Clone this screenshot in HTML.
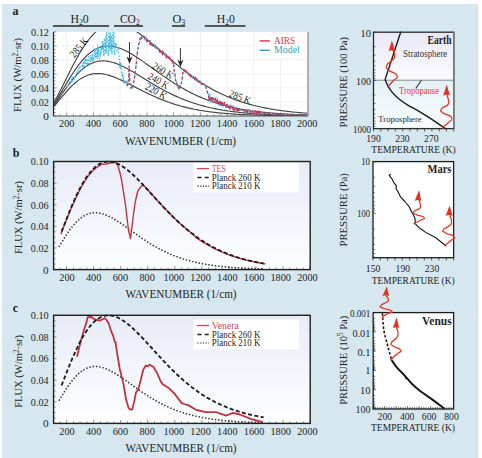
<!DOCTYPE html>
<html><head><meta charset="utf-8"><style>
html,body{margin:0;padding:0;background:#fff;}
svg{display:block;}
</style></head><body>
<svg width="482" height="458" viewBox="0 0 482 458">
<rect x="2" y="4" width="476" height="454" fill="#d6e7ef"/>
<rect x="476.8" y="4" width="1.2" height="454" fill="#d2e0e8"/>
<text x="12.60" y="15.00" font-family="Liberation Serif, serif" font-size="12" font-weight="bold" fill="#1e1e1e" text-anchor="start" >a</text>
<rect x="53" y="25.2" width="56" height="1.6" fill="#333"/>
<text x="70.50" y="22.90" font-family="Liberation Serif, serif" font-size="11.5" fill="#1e1e1e" text-anchor="start" textLength="18.2" lengthAdjust="spacingAndGlyphs" >H<tspan font-size="7.5" dy="2.2">2</tspan><tspan dy="-2.2">0</tspan></text>
<rect x="114" y="25.2" width="29" height="1.6" fill="#333"/>
<text x="120.00" y="22.90" font-family="Liberation Serif, serif" font-size="11.5" fill="#1e1e1e" text-anchor="start" textLength="19.6" lengthAdjust="spacingAndGlyphs" >CO<tspan font-size="7.5" dy="2.2">2</tspan></text>
<rect x="172" y="25.2" width="13.199999999999989" height="1.6" fill="#333"/>
<text x="172.50" y="22.90" font-family="Liberation Serif, serif" font-size="11.5" fill="#1e1e1e" text-anchor="start" textLength="12.8" lengthAdjust="spacingAndGlyphs" >O<tspan font-size="7.5" dy="2.2">3</tspan></text>
<rect x="204.8" y="25.2" width="40.69999999999999" height="1.6" fill="#333"/>
<text x="216.80" y="22.90" font-family="Liberation Serif, serif" font-size="11.5" fill="#1e1e1e" text-anchor="start" textLength="18.2" lengthAdjust="spacingAndGlyphs" >H<tspan font-size="7.5" dy="2.2">2</tspan><tspan dy="-2.2">0</tspan></text>
<rect x="53.5" y="31.9" width="254.5" height="84.1" fill="#fff"/>
<line x1="66.76" y1="31.9" x2="66.76" y2="116.0" stroke="#e2e2e2" stroke-width="0.8" stroke-dasharray="1.5 1"/>
<line x1="93.48" y1="31.9" x2="93.48" y2="116.0" stroke="#e2e2e2" stroke-width="0.8" stroke-dasharray="1.5 1"/>
<line x1="120.20" y1="31.9" x2="120.20" y2="116.0" stroke="#e2e2e2" stroke-width="0.8" stroke-dasharray="1.5 1"/>
<line x1="146.92" y1="31.9" x2="146.92" y2="116.0" stroke="#e2e2e2" stroke-width="0.8" stroke-dasharray="1.5 1"/>
<line x1="173.64" y1="31.9" x2="173.64" y2="116.0" stroke="#e2e2e2" stroke-width="0.8" stroke-dasharray="1.5 1"/>
<line x1="200.36" y1="31.9" x2="200.36" y2="116.0" stroke="#e2e2e2" stroke-width="0.8" stroke-dasharray="1.5 1"/>
<line x1="227.08" y1="31.9" x2="227.08" y2="116.0" stroke="#e2e2e2" stroke-width="0.8" stroke-dasharray="1.5 1"/>
<line x1="253.80" y1="31.9" x2="253.80" y2="116.0" stroke="#e2e2e2" stroke-width="0.8" stroke-dasharray="1.5 1"/>
<line x1="280.52" y1="31.9" x2="280.52" y2="116.0" stroke="#e2e2e2" stroke-width="0.8" stroke-dasharray="1.5 1"/>
<line x1="307.24" y1="31.9" x2="307.24" y2="116.0" stroke="#e2e2e2" stroke-width="0.8" stroke-dasharray="1.5 1"/>
<line x1="53.5" y1="101.98" x2="308.0" y2="101.98" stroke="#e2e2e2" stroke-width="0.8" stroke-dasharray="1.5 1"/>
<line x1="53.5" y1="87.96" x2="308.0" y2="87.96" stroke="#e2e2e2" stroke-width="0.8" stroke-dasharray="1.5 1"/>
<line x1="53.5" y1="73.94" x2="308.0" y2="73.94" stroke="#e2e2e2" stroke-width="0.8" stroke-dasharray="1.5 1"/>
<line x1="53.5" y1="59.92" x2="308.0" y2="59.92" stroke="#e2e2e2" stroke-width="0.8" stroke-dasharray="1.5 1"/>
<line x1="53.5" y1="45.90" x2="308.0" y2="45.90" stroke="#e2e2e2" stroke-width="0.8" stroke-dasharray="1.5 1"/>
<line x1="60.08" y1="116.0" x2="60.08" y2="114.0" stroke="#777" stroke-width="0.7"/>
<line x1="66.76" y1="116.0" x2="66.76" y2="112.5" stroke="#777" stroke-width="0.7"/>
<line x1="73.44" y1="116.0" x2="73.44" y2="114.0" stroke="#777" stroke-width="0.7"/>
<line x1="80.12" y1="116.0" x2="80.12" y2="114.0" stroke="#777" stroke-width="0.7"/>
<line x1="86.80" y1="116.0" x2="86.80" y2="114.0" stroke="#777" stroke-width="0.7"/>
<line x1="93.48" y1="116.0" x2="93.48" y2="112.5" stroke="#777" stroke-width="0.7"/>
<line x1="100.16" y1="116.0" x2="100.16" y2="114.0" stroke="#777" stroke-width="0.7"/>
<line x1="106.84" y1="116.0" x2="106.84" y2="114.0" stroke="#777" stroke-width="0.7"/>
<line x1="113.52" y1="116.0" x2="113.52" y2="114.0" stroke="#777" stroke-width="0.7"/>
<line x1="120.20" y1="116.0" x2="120.20" y2="112.5" stroke="#777" stroke-width="0.7"/>
<line x1="126.88" y1="116.0" x2="126.88" y2="114.0" stroke="#777" stroke-width="0.7"/>
<line x1="133.56" y1="116.0" x2="133.56" y2="114.0" stroke="#777" stroke-width="0.7"/>
<line x1="140.24" y1="116.0" x2="140.24" y2="114.0" stroke="#777" stroke-width="0.7"/>
<line x1="146.92" y1="116.0" x2="146.92" y2="112.5" stroke="#777" stroke-width="0.7"/>
<line x1="153.60" y1="116.0" x2="153.60" y2="114.0" stroke="#777" stroke-width="0.7"/>
<line x1="160.28" y1="116.0" x2="160.28" y2="114.0" stroke="#777" stroke-width="0.7"/>
<line x1="166.96" y1="116.0" x2="166.96" y2="114.0" stroke="#777" stroke-width="0.7"/>
<line x1="173.64" y1="116.0" x2="173.64" y2="112.5" stroke="#777" stroke-width="0.7"/>
<line x1="180.32" y1="116.0" x2="180.32" y2="114.0" stroke="#777" stroke-width="0.7"/>
<line x1="187.00" y1="116.0" x2="187.00" y2="114.0" stroke="#777" stroke-width="0.7"/>
<line x1="193.68" y1="116.0" x2="193.68" y2="114.0" stroke="#777" stroke-width="0.7"/>
<line x1="200.36" y1="116.0" x2="200.36" y2="112.5" stroke="#777" stroke-width="0.7"/>
<line x1="207.04" y1="116.0" x2="207.04" y2="114.0" stroke="#777" stroke-width="0.7"/>
<line x1="213.72" y1="116.0" x2="213.72" y2="114.0" stroke="#777" stroke-width="0.7"/>
<line x1="220.40" y1="116.0" x2="220.40" y2="114.0" stroke="#777" stroke-width="0.7"/>
<line x1="227.08" y1="116.0" x2="227.08" y2="112.5" stroke="#777" stroke-width="0.7"/>
<line x1="233.76" y1="116.0" x2="233.76" y2="114.0" stroke="#777" stroke-width="0.7"/>
<line x1="240.44" y1="116.0" x2="240.44" y2="114.0" stroke="#777" stroke-width="0.7"/>
<line x1="247.12" y1="116.0" x2="247.12" y2="114.0" stroke="#777" stroke-width="0.7"/>
<line x1="253.80" y1="116.0" x2="253.80" y2="112.5" stroke="#777" stroke-width="0.7"/>
<line x1="260.48" y1="116.0" x2="260.48" y2="114.0" stroke="#777" stroke-width="0.7"/>
<line x1="267.16" y1="116.0" x2="267.16" y2="114.0" stroke="#777" stroke-width="0.7"/>
<line x1="273.84" y1="116.0" x2="273.84" y2="114.0" stroke="#777" stroke-width="0.7"/>
<line x1="280.52" y1="116.0" x2="280.52" y2="112.5" stroke="#777" stroke-width="0.7"/>
<line x1="287.20" y1="116.0" x2="287.20" y2="114.0" stroke="#777" stroke-width="0.7"/>
<line x1="293.88" y1="116.0" x2="293.88" y2="114.0" stroke="#777" stroke-width="0.7"/>
<line x1="300.56" y1="116.0" x2="300.56" y2="114.0" stroke="#777" stroke-width="0.7"/>
<line x1="307.24" y1="116.0" x2="307.24" y2="112.5" stroke="#777" stroke-width="0.7"/>
<line x1="53.5" y1="116.00" x2="56.5" y2="116.00" stroke="#666" stroke-width="0.7"/>
<line x1="53.5" y1="112.50" x2="55.5" y2="112.50" stroke="#666" stroke-width="0.7"/>
<line x1="53.5" y1="108.99" x2="55.5" y2="108.99" stroke="#666" stroke-width="0.7"/>
<line x1="53.5" y1="105.48" x2="55.5" y2="105.48" stroke="#666" stroke-width="0.7"/>
<line x1="53.5" y1="101.98" x2="56.5" y2="101.98" stroke="#666" stroke-width="0.7"/>
<line x1="53.5" y1="98.47" x2="55.5" y2="98.47" stroke="#666" stroke-width="0.7"/>
<line x1="53.5" y1="94.97" x2="55.5" y2="94.97" stroke="#666" stroke-width="0.7"/>
<line x1="53.5" y1="91.47" x2="55.5" y2="91.47" stroke="#666" stroke-width="0.7"/>
<line x1="53.5" y1="87.96" x2="56.5" y2="87.96" stroke="#666" stroke-width="0.7"/>
<line x1="53.5" y1="84.45" x2="55.5" y2="84.45" stroke="#666" stroke-width="0.7"/>
<line x1="53.5" y1="80.95" x2="55.5" y2="80.95" stroke="#666" stroke-width="0.7"/>
<line x1="53.5" y1="77.44" x2="55.5" y2="77.44" stroke="#666" stroke-width="0.7"/>
<line x1="53.5" y1="73.94" x2="56.5" y2="73.94" stroke="#666" stroke-width="0.7"/>
<line x1="53.5" y1="70.44" x2="55.5" y2="70.44" stroke="#666" stroke-width="0.7"/>
<line x1="53.5" y1="66.93" x2="55.5" y2="66.93" stroke="#666" stroke-width="0.7"/>
<line x1="53.5" y1="63.43" x2="55.5" y2="63.43" stroke="#666" stroke-width="0.7"/>
<line x1="53.5" y1="59.92" x2="56.5" y2="59.92" stroke="#666" stroke-width="0.7"/>
<line x1="53.5" y1="56.41" x2="55.5" y2="56.41" stroke="#666" stroke-width="0.7"/>
<line x1="53.5" y1="52.91" x2="55.5" y2="52.91" stroke="#666" stroke-width="0.7"/>
<line x1="53.5" y1="49.41" x2="55.5" y2="49.41" stroke="#666" stroke-width="0.7"/>
<line x1="53.5" y1="45.90" x2="56.5" y2="45.90" stroke="#666" stroke-width="0.7"/>
<line x1="53.5" y1="42.39" x2="55.5" y2="42.39" stroke="#666" stroke-width="0.7"/>
<line x1="53.5" y1="38.89" x2="55.5" y2="38.89" stroke="#666" stroke-width="0.7"/>
<line x1="53.5" y1="35.38" x2="55.5" y2="35.38" stroke="#666" stroke-width="0.7"/>
<line x1="53.5" y1="31.88" x2="56.5" y2="31.88" stroke="#666" stroke-width="0.7"/>
<clipPath id="ca"><rect x="53.5" y="31.9" width="254.5" height="84.1"/></clipPath>
<polyline clip-path="url(#ca)" points="53.40,106.96 54.47,105.75 55.54,104.52 56.61,103.27 57.68,101.99 58.74,100.71 59.81,99.42 60.88,98.13 61.95,96.85 63.02,95.57 64.09,94.31 65.16,93.07 66.23,91.85 67.29,90.66 68.36,89.49 69.43,88.35 70.50,87.25 71.57,86.18 72.64,85.15 73.71,84.16 74.78,83.21 75.84,82.31 76.91,81.45 77.98,80.63 79.05,79.85 80.12,79.12 81.19,78.44 82.26,77.81 83.33,77.22 84.40,76.67 85.46,76.18 86.53,75.72 87.60,75.32 88.67,74.96 89.74,74.64 90.81,74.36 91.88,74.13 92.95,73.94 94.01,73.79 95.08,73.68 96.15,73.61 97.22,73.57 98.29,73.58 99.36,73.61 100.43,73.69 101.50,73.79 102.56,73.93 103.63,74.09 104.70,74.29 105.77,74.51 106.84,74.77 107.91,75.04 108.98,75.34 110.05,75.66 111.12,76.01 112.18,76.37 113.25,76.76 114.32,77.16 115.39,77.58 116.46,78.01 117.53,78.46 118.60,78.92 119.67,79.40 120.73,79.88 121.80,80.38 122.87,80.89 123.94,81.40 125.01,81.92 126.08,82.45 127.15,82.99 128.22,83.52 129.28,84.07 130.35,84.61 131.42,85.16 132.49,85.71 133.56,86.27 134.63,86.82 135.70,87.37 136.77,87.92 137.84,88.47 138.90,89.02 139.97,89.57 141.04,90.11 142.11,90.65 143.18,91.19 144.25,91.72 145.32,92.25 146.39,92.78 147.45,93.29 148.52,93.81 149.59,94.32 150.66,94.82 151.73,95.31 152.80,95.80 153.87,96.29 154.94,96.76 156.00,97.23 157.07,97.70 158.14,98.15 159.21,98.60 160.28,99.04 161.35,99.48 162.42,99.90 163.49,100.32 164.56,100.73 165.62,101.14 166.69,101.53 167.76,101.92 168.83,102.30 169.90,102.67 170.97,103.04 172.04,103.40 173.11,103.75 174.17,104.09 175.24,104.43 176.31,104.76 177.38,105.08 178.45,105.39 179.52,105.70 180.59,106.00 181.66,106.29 182.72,106.57 183.79,106.85 184.86,107.12 185.93,107.39 187.00,107.65 188.07,107.90 189.14,108.14 190.21,108.38 191.28,108.62 192.34,108.84 193.41,109.06 194.48,109.28 195.55,109.49 196.62,109.69 197.69,109.89 198.76,110.08 199.83,110.27 200.89,110.45 201.96,110.63 203.03,110.80 204.10,110.97 205.17,111.13 206.24,111.29 207.31,111.44 208.38,111.59 209.44,111.74 210.51,111.88 211.58,112.01 212.65,112.15 213.72,112.27 214.79,112.40 215.86,112.52 216.93,112.64 218.00,112.75 219.06,112.86 220.13,112.97 221.20,113.07 222.27,113.17 223.34,113.26 224.41,113.36 225.48,113.45 226.55,113.54 227.61,113.62 228.68,113.71 229.75,113.78 230.82,113.86 231.89,113.94 232.96,114.01 234.03,114.08 235.10,114.15 236.16,114.21 237.23,114.28 238.30,114.34 239.37,114.40 240.44,114.45 241.51,114.51 242.58,114.56 243.65,114.61 244.72,114.66 245.78,114.71 246.85,114.76 247.92,114.80 248.99,114.85 250.06,114.89 251.13,114.93 252.20,114.97 253.27,115.01 254.33,115.04 255.40,115.08 256.47,115.11 257.54,115.14 258.61,115.18 259.68,115.21 260.75,115.24 261.82,115.26 262.88,115.29 263.95,115.32 265.02,115.34 266.09,115.37 267.16,115.39 268.23,115.41 269.30,115.44 270.37,115.46 271.44,115.48 272.50,115.50 273.57,115.52 274.64,115.53 275.71,115.55 276.78,115.57 277.85,115.59 278.92,115.60 279.99,115.62 281.05,115.63 282.12,115.65 283.19,115.66 284.26,115.67 285.33,115.68 286.40,115.70 287.47,115.71 288.54,115.72 289.60,115.73 290.67,115.74 291.74,115.75 292.81,115.76 293.88,115.77 294.95,115.78 296.02,115.79 297.09,115.80 298.16,115.80 299.22,115.81 300.29,115.82 301.36,115.83 302.43,115.83 303.50,115.84 304.57,115.85 305.64,115.85 306.71,115.86" fill="none" stroke="#444" stroke-width="1.15"/>
<polyline clip-path="url(#ca)" points="53.40,105.83 54.47,104.45 55.54,103.03 56.61,101.57 57.68,100.08 58.74,98.57 59.81,97.05 60.88,95.52 61.95,93.99 63.02,92.45 64.09,90.93 65.16,89.41 66.23,87.91 67.29,86.43 68.36,84.97 69.43,83.54 70.50,82.14 71.57,80.78 72.64,79.44 73.71,78.15 74.78,76.89 75.84,75.68 76.91,74.51 77.98,73.39 79.05,72.31 80.12,71.28 81.19,70.29 82.26,69.36 83.33,68.47 84.40,67.64 85.46,66.85 86.53,66.12 87.60,65.44 88.67,64.80 89.74,64.22 90.81,63.69 91.88,63.20 92.95,62.77 94.01,62.38 95.08,62.04 96.15,61.75 97.22,61.50 98.29,61.30 99.36,61.14 100.43,61.02 101.50,60.95 102.56,60.92 103.63,60.92 104.70,60.97 105.77,61.05 106.84,61.17 107.91,61.32 108.98,61.51 110.05,61.73 111.12,61.98 112.18,62.26 113.25,62.57 114.32,62.90 115.39,63.26 116.46,63.65 117.53,64.06 118.60,64.49 119.67,64.95 120.73,65.42 121.80,65.91 122.87,66.42 123.94,66.95 125.01,67.49 126.08,68.04 127.15,68.61 128.22,69.19 129.28,69.78 130.35,70.39 131.42,71.00 132.49,71.62 133.56,72.24 134.63,72.88 135.70,73.52 136.77,74.16 137.84,74.81 138.90,75.46 139.97,76.11 141.04,76.77 142.11,77.43 143.18,78.08 144.25,78.74 145.32,79.40 146.39,80.05 147.45,80.71 148.52,81.36 149.59,82.01 150.66,82.65 151.73,83.30 152.80,83.93 153.87,84.57 154.94,85.20 156.00,85.82 157.07,86.44 158.14,87.05 159.21,87.66 160.28,88.26 161.35,88.85 162.42,89.44 163.49,90.02 164.56,90.59 165.62,91.15 166.69,91.71 167.76,92.26 168.83,92.80 169.90,93.34 170.97,93.87 172.04,94.38 173.11,94.89 174.17,95.40 175.24,95.89 176.31,96.38 177.38,96.85 178.45,97.32 179.52,97.78 180.59,98.24 181.66,98.68 182.72,99.12 183.79,99.54 184.86,99.96 185.93,100.37 187.00,100.78 188.07,101.17 189.14,101.56 190.21,101.94 191.28,102.31 192.34,102.67 193.41,103.03 194.48,103.37 195.55,103.71 196.62,104.05 197.69,104.37 198.76,104.69 199.83,105.00 200.89,105.31 201.96,105.60 203.03,105.89 204.10,106.17 205.17,106.45 206.24,106.72 207.31,106.98 208.38,107.24 209.44,107.49 210.51,107.73 211.58,107.97 212.65,108.20 213.72,108.43 214.79,108.65 215.86,108.87 216.93,109.08 218.00,109.28 219.06,109.48 220.13,109.67 221.20,109.86 222.27,110.04 223.34,110.22 224.41,110.40 225.48,110.57 226.55,110.73 227.61,110.89 228.68,111.05 229.75,111.20 230.82,111.34 231.89,111.49 232.96,111.63 234.03,111.76 235.10,111.89 236.16,112.02 237.23,112.14 238.30,112.26 239.37,112.38 240.44,112.50 241.51,112.61 242.58,112.71 243.65,112.82 244.72,112.92 245.78,113.02 246.85,113.11 247.92,113.20 248.99,113.29 250.06,113.38 251.13,113.46 252.20,113.55 253.27,113.63 254.33,113.70 255.40,113.78 256.47,113.85 257.54,113.92 258.61,113.99 259.68,114.05 260.75,114.12 261.82,114.18 262.88,114.24 263.95,114.30 265.02,114.35 266.09,114.41 267.16,114.46 268.23,114.51 269.30,114.56 270.37,114.61 271.44,114.66 272.50,114.70 273.57,114.75 274.64,114.79 275.71,114.83 276.78,114.87 277.85,114.91 278.92,114.94 279.99,114.98 281.05,115.01 282.12,115.05 283.19,115.08 284.26,115.11 285.33,115.14 286.40,115.17 287.47,115.20 288.54,115.23 289.60,115.25 290.67,115.28 291.74,115.31 292.81,115.33 293.88,115.35 294.95,115.38 296.02,115.40 297.09,115.42 298.16,115.44 299.22,115.46 300.29,115.48 301.36,115.50 302.43,115.51 303.50,115.53 304.57,115.55 305.64,115.56 306.71,115.58" fill="none" stroke="#444" stroke-width="1.15"/>
<polyline clip-path="url(#ca)" points="53.40,104.70 54.47,103.14 55.54,101.52 56.61,99.86 57.68,98.15 58.74,96.42 59.81,94.66 60.88,92.88 61.95,91.09 63.02,89.29 64.09,87.49 65.16,85.69 66.23,83.90 67.29,82.12 68.36,80.36 69.43,78.62 70.50,76.91 71.57,75.22 72.64,73.57 73.71,71.95 74.78,70.36 75.84,68.82 76.91,67.32 77.98,65.86 79.05,64.45 80.12,63.08 81.19,61.77 82.26,60.50 83.33,59.29 84.40,58.12 85.46,57.01 86.53,55.96 87.60,54.95 88.67,54.01 89.74,53.11 90.81,52.27 91.88,51.49 92.95,50.76 94.01,50.09 95.08,49.46 96.15,48.90 97.22,48.38 98.29,47.92 99.36,47.51 100.43,47.15 101.50,46.84 102.56,46.57 103.63,46.36 104.70,46.19 105.77,46.07 106.84,46.00 107.91,45.97 108.98,45.98 110.05,46.03 111.12,46.12 112.18,46.26 113.25,46.43 114.32,46.63 115.39,46.88 116.46,47.15 117.53,47.46 118.60,47.80 119.67,48.18 120.73,48.58 121.80,49.01 122.87,49.46 123.94,49.94 125.01,50.45 126.08,50.98 127.15,51.53 128.22,52.10 129.28,52.69 130.35,53.30 131.42,53.92 132.49,54.56 133.56,55.22 134.63,55.89 135.70,56.57 136.77,57.27 137.84,57.98 138.90,58.69 139.97,59.42 141.04,60.15 142.11,60.89 143.18,61.64 144.25,62.39 145.32,63.15 146.39,63.91 147.45,64.68 148.52,65.45 149.59,66.22 150.66,66.99 151.73,67.76 152.80,68.53 153.87,69.30 154.94,70.07 156.00,70.84 157.07,71.61 158.14,72.37 159.21,73.13 160.28,73.89 161.35,74.64 162.42,75.39 163.49,76.13 164.56,76.87 165.62,77.60 166.69,78.32 167.76,79.04 168.83,79.76 169.90,80.46 170.97,81.16 172.04,81.86 173.11,82.54 174.17,83.22 175.24,83.89 176.31,84.55 177.38,85.20 178.45,85.85 179.52,86.48 180.59,87.11 181.66,87.73 182.72,88.34 183.79,88.94 184.86,89.54 185.93,90.12 187.00,90.70 188.07,91.26 189.14,91.82 190.21,92.37 191.28,92.91 192.34,93.44 193.41,93.96 194.48,94.47 195.55,94.97 196.62,95.47 197.69,95.95 198.76,96.43 199.83,96.90 200.89,97.36 201.96,97.81 203.03,98.25 204.10,98.68 205.17,99.11 206.24,99.52 207.31,99.93 208.38,100.33 209.44,100.72 210.51,101.11 211.58,101.48 212.65,101.85 213.72,102.21 214.79,102.56 215.86,102.91 216.93,103.25 218.00,103.58 219.06,103.90 220.13,104.21 221.20,104.52 222.27,104.83 223.34,105.12 224.41,105.41 225.48,105.69 226.55,105.96 227.61,106.23 228.68,106.50 229.75,106.75 230.82,107.00 231.89,107.25 232.96,107.49 234.03,107.72 235.10,107.95 236.16,108.17 237.23,108.38 238.30,108.59 239.37,108.80 240.44,109.00 241.51,109.20 242.58,109.39 243.65,109.57 244.72,109.75 245.78,109.93 246.85,110.10 247.92,110.27 248.99,110.43 250.06,110.59 251.13,110.75 252.20,110.90 253.27,111.04 254.33,111.19 255.40,111.33 256.47,111.46 257.54,111.59 258.61,111.72 259.68,111.85 260.75,111.97 261.82,112.09 262.88,112.20 263.95,112.31 265.02,112.42 266.09,112.53 267.16,112.63 268.23,112.73 269.30,112.83 270.37,112.92 271.44,113.02 272.50,113.11 273.57,113.19 274.64,113.28 275.71,113.36 276.78,113.44 277.85,113.52 278.92,113.59 279.99,113.66 281.05,113.74 282.12,113.81 283.19,113.87 284.26,113.94 285.33,114.00 286.40,114.06 287.47,114.12 288.54,114.18 289.60,114.24 290.67,114.29 291.74,114.34 292.81,114.40 293.88,114.45 294.95,114.49 296.02,114.54 297.09,114.59 298.16,114.63 299.22,114.67 300.29,114.72 301.36,114.76 302.43,114.79 303.50,114.83 304.57,114.87 305.64,114.91 306.71,114.94" fill="none" stroke="#444" stroke-width="1.15"/>
<polyline clip-path="url(#ca)" points="53.40,103.29 54.47,101.49 55.54,99.63 56.61,97.70 57.68,95.73 58.74,93.70 59.81,91.64 60.88,89.54 61.95,87.42 63.02,85.28 64.09,83.12 65.16,80.96 66.23,78.80 67.29,76.64 68.36,74.48 69.43,72.34 70.50,70.22 71.57,68.11 72.64,66.03 73.71,63.98 74.78,61.96 75.84,59.98 76.91,58.03 77.98,56.13 79.05,54.27 80.12,52.45 81.19,50.68 82.26,48.96 83.33,47.29 84.40,45.67 85.46,44.11 86.53,42.60 87.60,41.15 88.67,39.76 89.74,38.42 90.81,37.14 91.88,35.93 92.95,34.77 94.01,33.67 95.08,32.63 96.15,31.65 97.22,30.73 98.29,29.87 99.36,29.07 100.43,28.33 101.50,27.65 102.56,27.03 103.63,26.46 104.70,25.95 105.77,25.49 106.84,25.09 107.91,24.75 108.98,24.46 110.05,24.22 111.12,24.03 112.18,23.89 113.25,23.80 114.32,23.76 115.39,23.77 116.46,23.82 117.53,23.92 118.60,24.06 119.67,24.24 120.73,24.46 121.80,24.73 122.87,25.03 123.94,25.37 125.01,25.74 126.08,26.15 127.15,26.59 128.22,27.07 129.28,27.58 130.35,28.11 131.42,28.68 132.49,29.27 133.56,29.88 134.63,30.53 135.70,31.19 136.77,31.88 137.84,32.59 138.90,33.32 139.97,34.07 141.04,34.83 142.11,35.62 143.18,36.42 144.25,37.23 145.32,38.06 146.39,38.90 147.45,39.75 148.52,40.61 149.59,41.49 150.66,42.37 151.73,43.26 152.80,44.15 153.87,45.06 154.94,45.97 156.00,46.88 157.07,47.80 158.14,48.72 159.21,49.64 160.28,50.57 161.35,51.49 162.42,52.42 163.49,53.35 164.56,54.27 165.62,55.20 166.69,56.12 167.76,57.05 168.83,57.96 169.90,58.88 170.97,59.79 172.04,60.70 173.11,61.60 174.17,62.50 175.24,63.39 176.31,64.28 177.38,65.16 178.45,66.04 179.52,66.90 180.59,67.76 181.66,68.62 182.72,69.46 183.79,70.30 184.86,71.13 185.93,71.95 187.00,72.77 188.07,73.57 189.14,74.37 190.21,75.16 191.28,75.94 192.34,76.71 193.41,77.47 194.48,78.22 195.55,78.96 196.62,79.69 197.69,80.41 198.76,81.12 199.83,81.83 200.89,82.52 201.96,83.20 203.03,83.88 204.10,84.54 205.17,85.19 206.24,85.84 207.31,86.47 208.38,87.09 209.44,87.71 210.51,88.31 211.58,88.91 212.65,89.49 213.72,90.07 214.79,90.63 215.86,91.19 216.93,91.73 218.00,92.27 219.06,92.80 220.13,93.31 221.20,93.82 222.27,94.32 223.34,94.81 224.41,95.29 225.48,95.77 226.55,96.23 227.61,96.69 228.68,97.13 229.75,97.57 230.82,98.00 231.89,98.42 232.96,98.83 234.03,99.24 235.10,99.63 236.16,100.02 237.23,100.40 238.30,100.77 239.37,101.14 240.44,101.50 241.51,101.85 242.58,102.19 243.65,102.53 244.72,102.86 245.78,103.18 246.85,103.49 247.92,103.80 248.99,104.10 250.06,104.40 251.13,104.68 252.20,104.97 253.27,105.24 254.33,105.51 255.40,105.78 256.47,106.03 257.54,106.29 258.61,106.53 259.68,106.77 260.75,107.01 261.82,107.24 262.88,107.46 263.95,107.68 265.02,107.90 266.09,108.11 267.16,108.31 268.23,108.51 269.30,108.71 270.37,108.90 271.44,109.08 272.50,109.26 273.57,109.44 274.64,109.61 275.71,109.78 276.78,109.95 277.85,110.11 278.92,110.26 279.99,110.42 281.05,110.57 282.12,110.71 283.19,110.85 284.26,110.99 285.33,111.13 286.40,111.26 287.47,111.39 288.54,111.51 289.60,111.63 290.67,111.75 291.74,111.87 292.81,111.98 293.88,112.09 294.95,112.20 296.02,112.30 297.09,112.40 298.16,112.50 299.22,112.60 300.29,112.69 301.36,112.78 302.43,112.87 303.50,112.96 304.57,113.04 305.64,113.13 306.71,113.21" fill="none" stroke="#444" stroke-width="1.15"/>
<polyline clip-path="url(#ca)" points="66.76,87.55 67.11,86.64 67.45,84.70 67.80,85.99 68.15,85.31 68.50,84.47 68.84,85.69 69.19,83.78 69.54,82.75 69.89,81.48 70.23,84.24 70.58,82.78 70.93,83.35 71.28,79.30 71.62,79.37 71.97,82.26 72.32,76.80 72.67,76.36 73.01,77.57 73.36,77.29 73.71,79.45 74.05,79.84 74.40,76.36 74.75,78.74 75.10,77.52 75.44,76.77 75.79,77.69 76.14,74.45 76.49,74.16 76.83,70.95 77.18,72.72 77.53,71.42 77.88,71.97 78.22,70.34 78.57,71.41 78.92,72.33 79.26,66.38 79.61,65.90 79.96,66.67 80.31,67.28 80.65,70.05 81.00,70.37 81.35,69.50 81.70,70.96 82.04,64.59 82.39,67.40 82.74,63.00 83.09,66.76 83.43,61.09 83.78,61.70 84.13,69.25 84.48,66.97 84.82,59.81 85.17,63.76 85.52,58.25 85.86,63.77 86.21,66.70 86.56,60.68 86.91,58.73 87.25,63.78 87.60,65.42 87.95,62.50 88.30,55.13 88.64,57.11 88.99,64.02 89.34,62.31 89.69,63.71 90.03,63.94 90.38,54.88 90.73,62.08 91.08,57.17 91.42,58.26 91.77,61.20 92.12,54.05 92.46,61.49 92.81,54.60 93.16,61.25 93.51,57.02 93.85,59.55 94.20,58.54 94.55,48.31 94.90,50.39 95.24,57.35 95.59,48.44 95.94,58.27 96.29,55.30 96.63,47.83 96.98,50.90 97.33,59.20 97.68,44.49 98.02,57.07 98.37,56.15 98.72,47.18 99.06,54.58 99.41,54.94 99.76,58.60 100.11,58.18 100.45,49.17 100.80,55.18 101.15,48.32 101.50,52.46 101.84,50.71 102.19,40.35 102.54,49.70 102.89,47.63 103.23,40.95 103.58,55.07 103.93,55.50 104.27,38.04 104.62,39.59 104.97,52.80 105.32,54.02 105.66,39.85 106.01,33.77 106.36,53.33 106.71,32.06 107.05,33.38 107.40,41.08 107.75,45.99 108.10,54.85 108.44,56.54 108.79,31.90 109.14,50.60 109.49,36.47 109.83,49.84 110.18,32.58 110.53,39.56 110.87,48.48 111.22,51.75 111.57,35.56 111.92,54.52 112.26,49.97 112.61,40.27 112.96,31.90 113.31,38.52 113.65,48.17 114.00,31.90 114.35,50.15 114.70,55.14 115.04,48.20 115.39,43.18 115.74,45.73 116.09,45.05 116.43,44.54 116.78,44.35 117.13,50.95 117.47,50.51 117.82,46.93 118.17,47.97 118.52,53.31 118.86,54.90 119.21,57.89 119.56,64.06 119.91,66.85 120.25,68.79 120.60,62.24 120.95,66.08 121.30,65.44 121.64,75.62 121.99,72.00 122.34,74.95 122.68,74.38 123.03,79.35 123.38,75.20 123.73,84.12 124.07,81.92 124.42,81.10 124.77,79.99 125.12,81.49 125.46,81.95 125.81,81.44 126.16,80.67 126.51,85.24 126.85,82.89 127.20,81.39 127.55,81.83 127.90,85.53 128.24,82.68 128.59,74.76 128.94,69.40 129.28,67.11 129.63,77.70 129.98,83.58 130.33,85.49 130.67,89.51 131.02,85.66 131.37,83.14 131.72,84.23 132.06,85.60 132.41,88.30 132.76,85.95 133.11,85.91 133.45,84.88 133.80,81.54 134.15,80.82 134.50,77.04 134.84,76.09 135.19,72.10 135.54,69.58 135.88,67.31 136.23,63.11 136.58,60.52 136.93,56.98 137.27,52.77 137.62,51.27 137.97,49.33 138.32,47.11 138.66,44.58 139.01,44.65 139.36,43.35 139.71,39.58 140.05,38.91 140.40,38.76 140.75,37.15 141.10,38.85 141.44,37.60 141.79,38.98 142.14,38.08 142.48,36.70 142.83,36.20 143.18,36.17 143.53,37.68 143.87,37.22 144.22,38.36 144.57,39.21 144.92,38.29 145.26,37.42 145.61,37.64 145.96,38.37 146.31,37.84 146.65,40.34 147.00,40.96 147.35,40.31 147.69,41.16 148.04,41.63 148.39,41.25 148.74,40.83 149.08,41.54 149.43,42.40 149.78,40.95 150.13,40.76 150.47,42.79 150.82,44.30 151.17,44.72 151.52,42.25 151.86,45.25 152.21,43.36 152.56,44.10 152.91,45.24 153.25,43.95 153.60,46.74 153.95,46.65 154.29,45.91 154.64,47.58 154.99,45.27 155.34,47.48 155.68,48.07 156.03,48.66 156.38,47.09 156.73,47.97 157.07,47.67 157.42,47.88 157.77,47.68 158.12,47.49 158.46,48.67 158.81,50.50 159.16,49.92 159.51,51.15 159.85,51.97 160.20,50.81 160.55,50.34 160.89,52.32 161.24,52.32 161.59,52.39 161.94,51.58 162.28,52.43 162.63,52.43 162.98,52.28 163.33,53.71 163.67,52.77 164.02,52.71 164.37,55.53 164.72,53.22 165.06,54.17 165.41,56.27 165.76,55.58 166.10,55.35 166.45,54.77 166.80,56.70 167.15,56.41 167.49,55.76 167.84,56.30 168.19,56.15 168.54,57.90 168.88,57.63 169.23,59.25 169.58,58.00 169.93,58.00 170.27,58.82 170.62,58.89 170.97,60.67 171.32,58.93 171.66,58.98 172.01,59.29 172.36,60.87 172.70,60.42 173.05,62.54 173.40,63.12 173.75,65.51 174.09,69.04 174.44,72.03 174.79,73.74 175.14,76.00 175.48,77.93 175.83,80.91 176.18,83.59 176.53,82.74 176.87,85.08 177.22,84.35 177.57,86.39 177.92,86.82 178.26,86.67 178.61,88.65 178.96,89.34 179.30,88.13 179.65,87.10 180.00,86.23 180.35,85.87 180.69,84.68 181.04,84.94 181.39,83.31 181.74,82.44 182.08,79.34 182.43,75.64 182.78,73.09 183.13,69.93 183.47,70.11 183.82,70.36 184.17,69.69 184.52,70.72 184.86,71.64 185.21,71.73 185.56,70.81 185.90,70.94 186.25,72.99 186.60,71.62 186.95,71.59 187.29,72.99 187.64,73.14 187.99,74.34 188.34,73.77 188.68,74.12 189.03,74.13 189.38,75.81 189.73,73.75 190.07,75.14 190.42,75.68 190.77,74.96 191.11,75.80 191.46,76.23 191.81,76.01 192.16,77.75 192.50,76.88 192.85,77.43 193.20,76.40 193.55,76.73 193.89,78.52 194.24,78.29 194.59,79.34 194.94,78.88 195.28,78.24 195.63,78.29 195.98,79.52 196.33,80.12 196.67,80.64 197.02,79.92 197.37,79.47 197.71,81.48 198.06,80.28 198.41,82.18 198.76,82.04 199.10,82.20 199.45,81.43 199.80,82.46 200.15,82.61 200.49,82.28 200.84,83.60 201.19,82.50 201.54,84.01 201.88,83.42 202.23,84.19 202.58,84.52 202.93,84.05 203.27,84.46 203.62,84.81 203.97,84.95 204.31,84.93 204.66,85.89 205.01,86.01 205.36,85.37 205.70,85.57 206.05,87.34 206.40,88.24 206.75,90.13 207.09,91.10 207.44,93.39 207.79,91.86 208.14,92.31 208.48,92.55 208.83,98.29 209.18,98.91 209.52,94.38 209.87,99.96 210.22,94.19 210.57,95.34 210.91,101.05 211.26,100.53 211.61,97.24 211.96,100.75 212.30,101.96 212.65,97.05 213.00,100.20 213.35,97.77 213.69,102.43 214.04,100.85 214.39,99.11 214.74,103.52 215.08,102.61 215.43,99.69 215.78,98.25 216.12,98.03 216.47,103.72 216.82,101.55 217.17,100.08 217.51,101.90 217.86,100.91 218.21,104.05 218.56,104.83 218.90,104.79 219.25,105.29 219.60,102.61 219.95,102.99 220.29,102.84 220.64,105.29 220.99,105.24 221.34,105.28 221.68,101.88 222.03,101.11 222.38,101.69 222.72,106.35 223.07,106.63 223.42,102.05 223.77,104.96 224.11,103.47 224.46,105.90 224.81,105.35 225.16,105.25 225.50,105.80 225.85,105.09 226.20,107.90 226.55,104.86 226.89,104.26 227.24,107.55 227.59,106.47 227.94,105.23 228.28,106.94 228.63,107.94 228.98,108.17 229.32,106.82 229.67,108.94 230.02,105.29 230.37,105.88 230.71,106.47 231.06,105.87 231.41,107.06 231.76,108.11 232.10,107.43 232.45,107.94 232.80,105.97 233.15,106.91 233.49,109.19 233.84,106.69 234.19,107.54 234.53,107.52 234.88,107.48 235.23,109.17 235.58,107.38 235.92,107.56 236.27,108.41 236.62,108.24 236.97,108.36 237.31,109.74 237.66,108.73 238.01,110.93 238.36,110.22 238.70,109.90 239.05,111.32 239.40,110.43 239.75,109.62 240.09,109.76 240.44,111.03 240.79,108.82 241.13,109.84 241.48,110.89 241.83,109.99 242.18,110.33 242.52,110.49 242.87,110.96 243.22,109.10 243.57,110.34 243.91,110.21 244.26,110.09 244.61,109.44 244.96,112.16 245.30,110.70 245.65,110.39 246.00,111.74 246.35,111.43 246.69,112.30 247.04,112.02 247.39,111.64 247.73,112.32 248.08,112.02 248.43,110.34 248.78,111.39 249.12,111.54 249.47,110.33 249.82,111.48 250.17,110.36 250.51,111.40 250.86,111.00 251.21,112.74 251.56,111.64 251.90,111.28 252.25,112.91 252.60,110.93 252.94,112.76 253.29,112.15 253.64,112.81 253.99,112.18 254.33,111.96 254.68,113.12 255.03,111.24 255.38,112.50 255.72,112.31 256.07,112.20 256.42,112.72 256.77,112.90 257.11,112.20 257.46,112.44 257.81,113.01 258.16,112.18 258.50,113.05 258.85,113.55 259.20,113.20 259.54,113.56 259.89,113.41 260.24,112.34 260.59,112.92 260.93,112.77 261.28,112.86 261.63,113.13 261.98,112.84 262.32,112.89 262.67,113.21 263.02,112.97 263.37,113.16 263.71,113.18 264.06,113.05 264.41,113.31 264.76,113.25 265.10,113.15 265.45,113.25 265.80,113.36 266.14,113.23 266.49,113.31 266.84,113.41 267.19,113.57 267.53,113.46 267.88,113.53 268.23,113.63 268.58,113.70 268.92,113.59 269.27,113.73 269.62,113.67 269.97,113.63 270.31,113.72 270.66,113.79 271.01,113.73 271.36,113.80 271.70,113.73 272.05,113.82 272.40,113.72 272.74,113.76 273.09,113.84 273.44,113.99 273.79,114.04 274.13,113.87 274.48,113.92 274.83,113.99 275.18,114.07 275.52,114.11 275.87,114.04 276.22,114.09 276.57,114.10 276.91,114.12 277.26,114.11 277.61,114.25 277.95,114.26 278.30,114.12 278.65,114.16 279.00,114.19 279.34,114.38 279.69,114.39 280.04,114.37 280.39,114.36 280.73,114.34 281.08,114.46 281.43,114.39 281.78,114.50 282.12,114.51 282.47,114.42 282.82,114.46 283.17,114.46 283.51,114.53 283.86,114.53 284.21,114.59 284.55,114.58 284.90,114.53 285.25,114.53 285.60,114.68 285.94,114.69 286.29,114.58 286.64,114.63 286.99,114.62 287.33,114.73 287.68,114.71 288.03,114.75 288.38,114.68 288.72,114.76 289.07,114.73 289.42,114.69 289.77,114.81 290.11,114.79 290.46,114.78 290.81,114.76 291.15,114.85 291.50,114.87 291.85,114.93 292.20,114.83 292.54,114.95 292.89,114.96 293.24,114.91 293.59,114.93 293.93,114.92 294.28,114.98 294.63,114.93 294.98,115.04 295.32,115.03 295.67,114.98 296.02,115.07 296.36,115.05 296.71,115.01 297.06,115.03 297.41,115.09 297.75,115.12 298.10,115.10 298.45,115.07 298.80,115.12 299.14,115.16 299.49,115.10 299.84,115.13 300.19,115.10 300.53,115.11 300.88,115.12 301.23,115.18 301.58,115.15 301.92,115.22 302.27,115.22 302.62,115.23 302.96,115.18 303.31,115.19 303.66,115.27 304.01,115.27 304.35,115.27 304.70,115.28 305.05,115.29 305.40,115.30 305.74,115.32 306.09,115.30 306.44,115.28 306.79,115.32 307.13,115.30" fill="none" stroke="#45bce6" stroke-width="1.15" stroke-dasharray="1.7 1.7"/>
<polyline clip-path="url(#ca)" points="126.88,84.21 127.25,85.15 127.63,84.27 128.00,84.25 128.38,82.75 128.75,75.45 129.12,65.50 129.50,73.47 129.87,81.86 130.25,85.38 130.62,86.19 130.99,86.12 131.37,87.69 131.74,87.03 132.12,86.80 132.49,88.29 132.87,88.51 133.24,85.27 133.61,82.62 133.99,81.86 134.36,78.22 134.74,76.64 135.11,72.40 135.48,69.61 135.86,67.49 136.23,64.35 136.61,59.55 136.98,56.73 137.35,52.43 137.73,49.79 138.10,47.84 138.48,44.43 138.85,43.84 139.22,42.88 139.60,41.20 139.97,39.05 140.35,37.92 140.72,37.08 141.10,38.58 141.47,37.06 141.84,37.43 142.22,36.66 142.59,36.66 142.97,36.41 143.34,36.08 143.71,35.85 144.09,37.19 144.46,37.85 144.84,37.52 145.21,37.49 145.58,39.04 145.96,39.33 146.33,40.52 146.71,38.85 147.08,38.30 147.45,40.64 147.83,41.62 148.20,41.79 148.58,41.36 148.95,42.09 149.32,40.15 149.70,43.45 150.07,42.94 150.45,43.87 150.82,42.43 151.20,42.31 151.57,44.57 151.94,45.25 152.32,44.27 152.69,44.16 153.07,43.41 153.44,46.55 153.81,46.63 154.19,46.69 154.56,46.90 154.94,47.15 155.31,45.91 155.68,46.62 156.06,48.12 156.43,48.56 156.81,48.56 157.18,49.22 157.55,47.66 157.93,49.41 158.30,48.97 158.68,48.42 159.05,49.82 159.42,50.83 159.80,49.15 160.17,49.39 160.55,51.52 160.92,51.19 161.30,50.21 161.67,52.03 162.04,53.16 162.42,54.00 162.79,51.52 163.17,52.30 163.54,53.92 163.91,53.79 164.29,54.15 164.66,55.20 165.04,53.31 165.41,54.66 165.78,56.26 166.16,57.26 166.53,56.18 166.91,56.80 167.28,55.83 167.65,56.40 168.03,57.04 168.40,58.70 168.78,59.01 169.15,58.83 169.53,59.33 169.90,57.83 170.27,59.20 170.65,59.15 171.02,58.41 171.40,60.86 171.77,60.39 172.14,61.82 172.52,60.32 172.89,62.86 173.27,62.50 173.64,64.85 174.01,67.28 174.39,71.63 174.76,73.96 175.14,75.60 175.51,79.65 175.88,81.28 176.26,82.84 176.63,82.68 177.01,84.31 177.38,84.60 177.75,86.53 178.13,86.38 178.50,87.90 178.88,87.73 179.25,89.03 179.63,86.95 180.00,87.46 180.37,86.11 180.75,85.44 181.12,85.46 181.50,82.73 181.87,80.89 182.24,77.78 182.62,75.08 182.99,71.06 183.37,70.58 183.74,69.87 184.11,70.92 184.49,70.36 184.86,72.17 185.24,71.72 185.61,71.84 185.98,70.83 186.36,71.48 186.73,72.23 187.11,74.13 187.48,73.51 187.86,72.96 188.23,74.43 188.60,73.90 188.98,74.45 189.35,75.83 189.73,73.69 190.10,74.46 190.47,76.19 190.85,75.47 191.22,76.54 191.60,76.61 191.97,76.49 192.34,77.34 192.72,77.52 193.09,77.66 193.47,77.28 193.84,78.51 194.21,78.91 194.59,77.94 194.96,79.14 195.34,77.98 195.71,79.13 196.08,79.03 196.46,80.18 196.83,79.32 197.21,81.22 197.58,81.37 197.96,81.72 198.33,80.69 198.70,80.88 199.08,82.29 199.45,82.05 199.83,81.36 200.20,82.14 200.57,83.46 200.95,83.41 201.32,83.80 201.70,84.11 202.07,83.76 202.44,84.69 202.82,83.16 203.19,84.43 203.57,84.49 203.94,84.45 204.31,84.44 204.69,84.57 205.06,85.68 205.44,86.02 205.81,86.51 206.18,88.89 206.56,89.74 206.93,90.73 207.31,91.72 207.68,93.20 208.06,93.40 208.43,94.93 208.80,100.32 209.18,98.79 209.55,98.92 209.93,96.83 210.30,100.92 210.67,99.28 211.05,98.54 211.42,96.65 211.80,96.59 212.17,98.42 212.54,101.69 212.92,97.70 213.29,96.88 213.67,99.68 214.04,101.18 214.41,100.40 214.79,102.83 215.16,99.33 215.54,97.56 215.91,101.04 216.29,99.91 216.66,99.28 217.03,103.49 217.41,98.91 217.78,101.25 218.16,103.98 218.53,104.75 218.90,104.05 219.28,102.31 219.65,101.76 220.03,104.08 220.40,100.66 220.77,104.23 221.15,103.84 221.52,105.75 221.90,101.15 222.27,105.99 222.64,101.96 223.02,104.21 223.39,104.28 223.77,104.44 224.14,106.08 224.51,102.83 224.89,102.52 225.26,103.69 225.64,105.00 226.01,107.38 226.39,104.14 226.76,106.92 227.13,104.08 227.51,107.38 227.88,106.02 228.26,104.90 228.63,107.98 229.00,106.55 229.38,108.63 229.75,108.91 230.13,108.47 230.50,105.02 230.87,105.41 231.25,106.87 231.62,108.45 232.00,107.09 232.37,106.93 232.74,108.51 233.12,107.81 233.49,107.04 233.87,110.10 234.24,109.60 234.62,108.76 234.99,109.99 235.36,109.27 235.74,108.72 236.11,110.18 236.49,109.12 236.86,110.08 237.23,109.17 237.61,110.06 237.98,109.12 238.36,111.10 238.73,109.23 239.10,110.97 239.48,108.40 239.85,109.78 240.23,110.29 240.60,110.54 240.97,109.95 241.35,109.81 241.72,109.65 242.10,109.74 242.47,110.62 242.84,109.05 243.22,109.66 243.59,109.67 243.97,111.07 244.34,111.06 244.72,110.75 245.09,109.77 245.46,110.97 245.84,111.03 246.21,111.33 246.59,110.04 246.96,111.71 247.33,112.37 247.71,110.76 248.08,110.30 248.46,110.85 248.83,111.27 249.20,110.91 249.58,112.08 249.95,111.44 250.33,112.66 250.70,112.59 251.07,111.94 251.45,111.86 251.82,112.14 252.20,112.89 252.57,111.54 252.94,111.99 253.32,112.64 253.69,112.55 254.07,112.40 254.44,112.77 254.82,113.11 255.19,111.35 255.56,111.26 255.94,112.03 256.31,111.61 256.69,112.64 257.06,111.85 257.43,113.08 257.81,112.08 258.18,112.50 258.56,111.81 258.93,113.42 259.30,112.15 259.68,113.44 260.05,112.75 260.43,111.93 260.80,113.07 261.17,113.02 261.55,113.04 261.92,113.06 262.30,113.18 262.67,112.94 263.05,113.01 263.42,113.18 263.79,113.22 264.17,113.18 264.54,113.38 264.92,113.42 265.29,113.18 265.66,113.40 266.04,113.37 266.41,113.27 266.79,113.29 267.16,113.47 267.53,113.58 267.91,113.58 268.28,113.43 268.66,113.47 269.03,113.69 269.40,113.54 269.78,113.70 270.15,113.70 270.53,113.81 270.90,113.65 271.27,113.64 271.65,113.88 272.02,113.79 272.40,113.93 272.77,113.78 273.15,114.01 273.52,114.02 273.89,113.90 274.27,114.02 274.64,113.91 275.02,113.94 275.39,114.00 275.76,114.16 276.14,114.05 276.51,114.02 276.89,114.16 277.26,114.26 277.63,114.25 278.01,114.25 278.38,114.19 278.76,114.32 279.13,114.34 279.50,114.35 279.88,114.28 280.25,114.28 280.63,114.38 281.00,114.34 281.38,114.32 281.75,114.40 282.12,114.49 282.50,114.49 282.87,114.39 283.25,114.46 283.62,114.55 283.99,114.50 284.37,114.62 284.74,114.48 285.12,114.59 285.49,114.60 285.86,114.61 286.24,114.71 286.61,114.63 286.99,114.70 287.36,114.73 287.73,114.65 288.11,114.78 288.48,114.77 288.86,114.71 289.23,114.80 289.60,114.81 289.98,114.79 290.35,114.86 290.73,114.76 291.10,114.76 291.48,114.92 291.85,114.87 292.22,114.85 292.60,114.91 292.97,114.85 293.35,114.92 293.72,114.98 294.09,114.94 294.47,114.94 294.84,115.00 295.22,114.97 295.59,114.96 295.96,115.01 296.34,115.03 296.71,114.99 297.09,115.03 297.46,115.06 297.83,115.02 298.21,115.13 298.58,115.06 298.96,115.15 299.33,115.11 299.70,115.16 300.08,115.15 300.45,115.12 300.83,115.13 301.20,115.14 301.58,115.21 301.95,115.20 302.32,115.24 302.70,115.21 303.07,115.23 303.45,115.28 303.82,115.24 304.19,115.23 304.57,115.26 304.94,115.24 305.32,115.32 305.69,115.33 306.06,115.35 306.44,115.31 306.81,115.33 307.19,115.33" fill="none" stroke="#c43a5c" stroke-width="1.35" stroke-dasharray="2.6 2.2"/>
<line x1="53.5" y1="31.9" x2="53.5" y2="116.0" stroke="#222" stroke-width="1.2"/>
<line x1="53.5" y1="116.0" x2="308.0" y2="116.0" stroke="#555" stroke-width="1.0"/>
<line x1="308.0" y1="31.9" x2="308.0" y2="116.0" stroke="#8a8a8a" stroke-width="1.2"/>
<line x1="129.5" y1="42" x2="129.5" y2="59.0" stroke="#3a3a3a" stroke-width="1"/>
<path d="M126.5,56.5 L129.5,64.0 L132.5,56.5 L129.5,58.5Z" fill="#2a2a2a"/>
<line x1="180.4" y1="48" x2="180.4" y2="62.3" stroke="#3a3a3a" stroke-width="1"/>
<path d="M177.4,59.8 L180.4,67.3 L183.4,59.8 L180.4,61.8Z" fill="#2a2a2a"/>
<text transform="translate(78.80,47.20) rotate(-50)" x="0" y="3.6" font-family="Liberation Serif, serif" font-size="10.5" fill="#1e1e1e" text-anchor="middle" textLength="22.5" lengthAdjust="spacingAndGlyphs">285 K</text>
<text transform="translate(163.00,70.50) rotate(31)" x="0" y="3.6" font-family="Liberation Serif, serif" font-size="10.5" fill="#1e1e1e" text-anchor="middle" textLength="22.5" lengthAdjust="spacingAndGlyphs">260 K</text>
<text transform="translate(158.60,80.80) rotate(30)" x="0" y="3.6" font-family="Liberation Serif, serif" font-size="10.5" fill="#1e1e1e" text-anchor="middle" textLength="22.5" lengthAdjust="spacingAndGlyphs">240 K</text>
<text transform="translate(156.20,91.00) rotate(29)" x="0" y="3.6" font-family="Liberation Serif, serif" font-size="10.5" fill="#1e1e1e" text-anchor="middle" textLength="22.5" lengthAdjust="spacingAndGlyphs">220 K</text>
<text transform="translate(240.00,97.00) rotate(22)" x="0" y="3.6" font-family="Liberation Serif, serif" font-size="10.5" fill="#1e1e1e" text-anchor="middle" textLength="22.5" lengthAdjust="spacingAndGlyphs">285 K</text>
<rect x="254.5" y="33.6" width="50" height="24.7" fill="#fff" stroke="#f2dde4" stroke-width="0.6" stroke-dasharray="1 1"/>
<line x1="259.6" y1="40.9" x2="269.8" y2="40.9" stroke="#d8304a" stroke-width="1.4"/>
<line x1="259.6" y1="50.3" x2="269.8" y2="50.3" stroke="#2aa0d0" stroke-width="1.4"/>
<text x="274.10" y="44.30" font-family="Liberation Serif, serif" font-size="10" fill="#d83a4e" text-anchor="start" textLength="21.1" lengthAdjust="spacingAndGlyphs" >AIRS</text>
<text x="274.10" y="53.40" font-family="Liberation Serif, serif" font-size="10" fill="#2aa8b8" text-anchor="start" textLength="25.7" lengthAdjust="spacingAndGlyphs" >Model</text>
<text x="48.90" y="119.90" font-family="Liberation Serif, serif" font-size="11" fill="#1e1e1e" text-anchor="end" textLength="5.6" lengthAdjust="spacingAndGlyphs" >0</text>
<text x="48.90" y="105.88" font-family="Liberation Serif, serif" font-size="11" fill="#1e1e1e" text-anchor="end" textLength="17.8" lengthAdjust="spacingAndGlyphs" >0.02</text>
<text x="48.90" y="91.86" font-family="Liberation Serif, serif" font-size="11" fill="#1e1e1e" text-anchor="end" textLength="17.8" lengthAdjust="spacingAndGlyphs" >0.04</text>
<text x="48.90" y="77.84" font-family="Liberation Serif, serif" font-size="11" fill="#1e1e1e" text-anchor="end" textLength="17.8" lengthAdjust="spacingAndGlyphs" >0.06</text>
<text x="48.90" y="63.82" font-family="Liberation Serif, serif" font-size="11" fill="#1e1e1e" text-anchor="end" textLength="17.8" lengthAdjust="spacingAndGlyphs" >0.08</text>
<text x="48.90" y="49.80" font-family="Liberation Serif, serif" font-size="11" fill="#1e1e1e" text-anchor="end" textLength="17.8" lengthAdjust="spacingAndGlyphs" >0.10</text>
<text x="48.90" y="35.78" font-family="Liberation Serif, serif" font-size="11" fill="#1e1e1e" text-anchor="end" textLength="17.8" lengthAdjust="spacingAndGlyphs" >0.12</text>
<text x="66.76" y="126.90" font-family="Liberation Serif, serif" font-size="11" fill="#1e1e1e" text-anchor="middle" textLength="15.4" lengthAdjust="spacingAndGlyphs" >200</text>
<text x="93.48" y="126.90" font-family="Liberation Serif, serif" font-size="11" fill="#1e1e1e" text-anchor="middle" textLength="15.4" lengthAdjust="spacingAndGlyphs" >400</text>
<text x="120.20" y="126.90" font-family="Liberation Serif, serif" font-size="11" fill="#1e1e1e" text-anchor="middle" textLength="15.4" lengthAdjust="spacingAndGlyphs" >600</text>
<text x="146.92" y="126.90" font-family="Liberation Serif, serif" font-size="11" fill="#1e1e1e" text-anchor="middle" textLength="15.4" lengthAdjust="spacingAndGlyphs" >800</text>
<text x="173.64" y="126.90" font-family="Liberation Serif, serif" font-size="11" fill="#1e1e1e" text-anchor="middle" textLength="20.5" lengthAdjust="spacingAndGlyphs" >1000</text>
<text x="200.36" y="126.90" font-family="Liberation Serif, serif" font-size="11" fill="#1e1e1e" text-anchor="middle" textLength="20.5" lengthAdjust="spacingAndGlyphs" >1200</text>
<text x="227.08" y="126.90" font-family="Liberation Serif, serif" font-size="11" fill="#1e1e1e" text-anchor="middle" textLength="20.5" lengthAdjust="spacingAndGlyphs" >1400</text>
<text x="253.80" y="126.90" font-family="Liberation Serif, serif" font-size="11" fill="#1e1e1e" text-anchor="middle" textLength="20.5" lengthAdjust="spacingAndGlyphs" >1600</text>
<text x="280.52" y="126.90" font-family="Liberation Serif, serif" font-size="11" fill="#1e1e1e" text-anchor="middle" textLength="20.5" lengthAdjust="spacingAndGlyphs" >1800</text>
<text x="307.24" y="126.90" font-family="Liberation Serif, serif" font-size="11" fill="#1e1e1e" text-anchor="middle" textLength="20.5" lengthAdjust="spacingAndGlyphs" >2000</text>
<text x="180.50" y="144.60" font-family="Liberation Serif, serif" font-size="11.5" fill="#1e1e1e" text-anchor="middle" textLength="111.2" lengthAdjust="spacingAndGlyphs" >WAVENUMBER (1/cm)</text>
<text transform="translate(17.5,75) rotate(-90)" x="0" y="3.8" font-family="Liberation Serif, serif" font-size="11" fill="#1e1e1e" text-anchor="middle" textLength="74" lengthAdjust="spacingAndGlyphs">FLUX (W/m<tspan font-size="7.5" dy="-3.8">2</tspan><tspan dy="3.8">·sr)</tspan></text>
<defs><linearGradient id="gb" x1="0" y1="0" x2="0" y2="1"><stop offset="0" stop-color="#e8ebf7"/><stop offset="0.6" stop-color="#f5f7fd"/><stop offset="1" stop-color="#fdfdff"/></linearGradient></defs>
<rect x="53.6" y="161.5" width="256.59999999999997" height="108.10000000000002" fill="url(#gb)"/>
<text x="12.80" y="157.40" font-family="Liberation Serif, serif" font-size="12" font-weight="bold" fill="#1e1e1e" text-anchor="start" >b</text>
<line x1="59.86" y1="269.6" x2="59.86" y2="267.6" stroke="#666" stroke-width="0.7"/>
<line x1="66.62" y1="269.6" x2="66.62" y2="266.1" stroke="#666" stroke-width="0.7"/>
<line x1="73.38" y1="269.6" x2="73.38" y2="267.6" stroke="#666" stroke-width="0.7"/>
<line x1="80.14" y1="269.6" x2="80.14" y2="267.6" stroke="#666" stroke-width="0.7"/>
<line x1="86.90" y1="269.6" x2="86.90" y2="267.6" stroke="#666" stroke-width="0.7"/>
<line x1="93.66" y1="269.6" x2="93.66" y2="266.1" stroke="#666" stroke-width="0.7"/>
<line x1="100.42" y1="269.6" x2="100.42" y2="267.6" stroke="#666" stroke-width="0.7"/>
<line x1="107.18" y1="269.6" x2="107.18" y2="267.6" stroke="#666" stroke-width="0.7"/>
<line x1="113.94" y1="269.6" x2="113.94" y2="267.6" stroke="#666" stroke-width="0.7"/>
<line x1="120.70" y1="269.6" x2="120.70" y2="266.1" stroke="#666" stroke-width="0.7"/>
<line x1="127.46" y1="269.6" x2="127.46" y2="267.6" stroke="#666" stroke-width="0.7"/>
<line x1="134.22" y1="269.6" x2="134.22" y2="267.6" stroke="#666" stroke-width="0.7"/>
<line x1="140.98" y1="269.6" x2="140.98" y2="267.6" stroke="#666" stroke-width="0.7"/>
<line x1="147.74" y1="269.6" x2="147.74" y2="266.1" stroke="#666" stroke-width="0.7"/>
<line x1="154.50" y1="269.6" x2="154.50" y2="267.6" stroke="#666" stroke-width="0.7"/>
<line x1="161.26" y1="269.6" x2="161.26" y2="267.6" stroke="#666" stroke-width="0.7"/>
<line x1="168.02" y1="269.6" x2="168.02" y2="267.6" stroke="#666" stroke-width="0.7"/>
<line x1="174.78" y1="269.6" x2="174.78" y2="266.1" stroke="#666" stroke-width="0.7"/>
<line x1="181.54" y1="269.6" x2="181.54" y2="267.6" stroke="#666" stroke-width="0.7"/>
<line x1="188.30" y1="269.6" x2="188.30" y2="267.6" stroke="#666" stroke-width="0.7"/>
<line x1="195.06" y1="269.6" x2="195.06" y2="267.6" stroke="#666" stroke-width="0.7"/>
<line x1="201.82" y1="269.6" x2="201.82" y2="266.1" stroke="#666" stroke-width="0.7"/>
<line x1="208.58" y1="269.6" x2="208.58" y2="267.6" stroke="#666" stroke-width="0.7"/>
<line x1="215.34" y1="269.6" x2="215.34" y2="267.6" stroke="#666" stroke-width="0.7"/>
<line x1="222.10" y1="269.6" x2="222.10" y2="267.6" stroke="#666" stroke-width="0.7"/>
<line x1="228.86" y1="269.6" x2="228.86" y2="266.1" stroke="#666" stroke-width="0.7"/>
<line x1="235.62" y1="269.6" x2="235.62" y2="267.6" stroke="#666" stroke-width="0.7"/>
<line x1="242.38" y1="269.6" x2="242.38" y2="267.6" stroke="#666" stroke-width="0.7"/>
<line x1="249.14" y1="269.6" x2="249.14" y2="267.6" stroke="#666" stroke-width="0.7"/>
<line x1="255.90" y1="269.6" x2="255.90" y2="266.1" stroke="#666" stroke-width="0.7"/>
<line x1="262.66" y1="269.6" x2="262.66" y2="267.6" stroke="#666" stroke-width="0.7"/>
<line x1="269.42" y1="269.6" x2="269.42" y2="267.6" stroke="#666" stroke-width="0.7"/>
<line x1="276.18" y1="269.6" x2="276.18" y2="267.6" stroke="#666" stroke-width="0.7"/>
<line x1="282.94" y1="269.6" x2="282.94" y2="266.1" stroke="#666" stroke-width="0.7"/>
<line x1="289.70" y1="269.6" x2="289.70" y2="267.6" stroke="#666" stroke-width="0.7"/>
<line x1="296.46" y1="269.6" x2="296.46" y2="267.6" stroke="#666" stroke-width="0.7"/>
<line x1="303.22" y1="269.6" x2="303.22" y2="267.6" stroke="#666" stroke-width="0.7"/>
<line x1="309.98" y1="269.6" x2="309.98" y2="266.1" stroke="#666" stroke-width="0.7"/>
<line x1="53.6" y1="269.60" x2="56.6" y2="269.60" stroke="#666" stroke-width="0.7"/>
<line x1="53.6" y1="264.20" x2="55.6" y2="264.20" stroke="#666" stroke-width="0.7"/>
<line x1="53.6" y1="258.79" x2="55.6" y2="258.79" stroke="#666" stroke-width="0.7"/>
<line x1="53.6" y1="253.39" x2="55.6" y2="253.39" stroke="#666" stroke-width="0.7"/>
<line x1="53.6" y1="247.98" x2="56.6" y2="247.98" stroke="#666" stroke-width="0.7"/>
<line x1="53.6" y1="242.58" x2="55.6" y2="242.58" stroke="#666" stroke-width="0.7"/>
<line x1="53.6" y1="237.17" x2="55.6" y2="237.17" stroke="#666" stroke-width="0.7"/>
<line x1="53.6" y1="231.77" x2="55.6" y2="231.77" stroke="#666" stroke-width="0.7"/>
<line x1="53.6" y1="226.36" x2="56.6" y2="226.36" stroke="#666" stroke-width="0.7"/>
<line x1="53.6" y1="220.96" x2="55.6" y2="220.96" stroke="#666" stroke-width="0.7"/>
<line x1="53.6" y1="215.55" x2="55.6" y2="215.55" stroke="#666" stroke-width="0.7"/>
<line x1="53.6" y1="210.15" x2="55.6" y2="210.15" stroke="#666" stroke-width="0.7"/>
<line x1="53.6" y1="204.74" x2="56.6" y2="204.74" stroke="#666" stroke-width="0.7"/>
<line x1="53.6" y1="199.34" x2="55.6" y2="199.34" stroke="#666" stroke-width="0.7"/>
<line x1="53.6" y1="193.93" x2="55.6" y2="193.93" stroke="#666" stroke-width="0.7"/>
<line x1="53.6" y1="188.53" x2="55.6" y2="188.53" stroke="#666" stroke-width="0.7"/>
<line x1="53.6" y1="183.12" x2="56.6" y2="183.12" stroke="#666" stroke-width="0.7"/>
<line x1="53.6" y1="177.72" x2="55.6" y2="177.72" stroke="#666" stroke-width="0.7"/>
<line x1="53.6" y1="172.31" x2="55.6" y2="172.31" stroke="#666" stroke-width="0.7"/>
<line x1="53.6" y1="166.91" x2="55.6" y2="166.91" stroke="#666" stroke-width="0.7"/>
<line x1="53.6" y1="161.50" x2="56.6" y2="161.50" stroke="#666" stroke-width="0.7"/>
<rect x="193.6" y="162.8" width="105.5" height="29.5" fill="#fff"/>
<polyline points="58.91,246.97 59.72,245.61 60.54,244.26 61.35,242.91 62.16,241.58 62.97,240.25 63.78,238.95 64.59,237.66 65.40,236.39 66.21,235.14 67.03,233.91 67.84,232.72 68.65,231.54 69.46,230.40 70.27,229.29 71.08,228.21 71.89,227.16 72.70,226.15 73.52,225.17 74.33,224.23 75.14,223.32 75.95,222.45 76.76,221.62 77.57,220.82 78.38,220.06 79.19,219.34 80.00,218.66 80.82,218.02 81.63,217.41 82.44,216.85 83.25,216.32 84.06,215.83 84.87,215.37 85.68,214.96 86.49,214.58 87.31,214.23 88.12,213.93 88.93,213.66 89.74,213.42 90.55,213.22 91.36,213.05 92.17,212.92 92.98,212.81 93.80,212.74 94.61,212.70 95.42,212.69 96.23,212.72 97.04,212.76 97.85,212.84 98.66,212.95 99.47,213.08 100.28,213.23 101.10,213.42 101.91,213.62 102.72,213.85 103.53,214.10 104.34,214.38 105.15,214.67 105.96,214.98 106.77,215.32 107.59,215.67 108.40,216.04 109.21,216.42 110.02,216.82 110.83,217.24 111.64,217.67 112.45,218.11 113.26,218.57 114.08,219.04 114.89,219.52 115.70,220.01 116.51,220.52 117.32,221.03 118.13,221.55 118.94,222.08 119.75,222.61 120.56,223.15 121.38,223.70 122.19,224.26 123.00,224.82 123.81,225.38 124.62,225.95 125.43,226.52 126.24,227.09 127.05,227.67 127.87,228.25 128.68,228.83 129.49,229.41 130.30,229.99 131.11,230.58 131.92,231.16 132.73,231.74 133.54,232.32 134.36,232.90 135.17,233.48 135.98,234.05 136.79,234.63 137.60,235.20 138.41,235.77 139.22,236.33 140.03,236.90 140.84,237.45 141.66,238.01 142.47,238.56 143.28,239.11 144.09,239.65 144.90,240.19 145.71,240.72 146.52,241.25 147.33,241.77 148.15,242.29 148.96,242.80 149.77,243.31 150.58,243.81 151.39,244.30 152.20,244.79 153.01,245.28 153.82,245.76 154.64,246.23 155.45,246.70 156.26,247.16 157.07,247.61 157.88,248.06 158.69,248.50 159.50,248.93 160.31,249.36 161.12,249.79 161.94,250.20 162.75,250.61 163.56,251.02 164.37,251.41 165.18,251.80 165.99,252.19 166.80,252.57 167.61,252.94 168.43,253.31 169.24,253.67 170.05,254.02 170.86,254.37 171.67,254.71 172.48,255.04 173.29,255.37 174.10,255.70 174.92,256.02 175.73,256.33 176.54,256.63 177.35,256.93 178.16,257.23 178.97,257.52 179.78,257.80 180.59,258.08 181.40,258.35 182.22,258.62 183.03,258.88 183.84,259.14 184.65,259.39 185.46,259.63 186.27,259.87 187.08,260.11 187.89,260.34 188.71,260.57 189.52,260.79 190.33,261.01 191.14,261.22 191.95,261.43 192.76,261.63 193.57,261.83 194.38,262.02 195.20,262.21 196.01,262.40 196.82,262.58 197.63,262.76 198.44,262.93 199.25,263.10 200.06,263.27 200.87,263.43 201.68,263.59 202.50,263.75 203.31,263.90 204.12,264.05 204.93,264.19 205.74,264.33 206.55,264.47 207.36,264.60 208.17,264.74 208.99,264.86 209.80,264.99 210.61,265.11 211.42,265.23 212.23,265.35 213.04,265.46 213.85,265.57 214.66,265.68 215.48,265.78 216.29,265.89 217.10,265.99 217.91,266.09 218.72,266.18 219.53,266.27 220.34,266.36 221.15,266.45 221.96,266.54 222.78,266.62 223.59,266.70 224.40,266.78 225.21,266.86 226.02,266.94 226.83,267.01 227.64,267.08 228.45,267.15 229.27,267.22 230.08,267.29 230.89,267.35 231.70,267.42 232.51,267.48 233.32,267.54 234.13,267.59 234.94,267.65 235.76,267.71 236.57,267.76 237.38,267.81 238.19,267.86 239.00,267.91 239.81,267.96 240.62,268.01 241.43,268.05 242.24,268.10 243.06,268.14 243.87,268.18 244.68,268.22 245.49,268.26 246.30,268.30 247.11,268.34 247.92,268.38 248.73,268.41 249.55,268.45 250.36,268.48 251.17,268.51 251.98,268.54 252.79,268.57 253.60,268.60 254.41,268.63 255.22,268.66 256.04,268.69 256.85,268.72 257.66,268.74 258.47,268.77 259.28,268.79 260.09,268.82 260.90,268.84 261.71,268.86 262.52,268.88 263.34,268.91" fill="none" stroke="#333" stroke-width="1.5" stroke-dasharray="1.5 1.8"/>
<polyline points="60.81,234.14 62.16,230.73 63.51,227.31 64.86,223.90 66.21,220.50 67.57,217.13 68.92,213.81 70.27,210.54 71.62,207.34 72.97,204.22 74.33,201.18 75.68,198.23 77.03,195.37 78.38,192.63 79.73,189.99 81.09,187.47 82.44,185.06 83.79,182.78 85.14,180.62 86.49,178.59 87.85,176.69 89.20,174.92 90.55,173.27 91.90,171.76 93.25,170.37 94.61,169.12 95.96,167.99 97.31,166.98 98.66,166.10 100.01,165.35 101.37,164.71 102.72,164.19 106.00,164.00 110.00,163.00 114.70,162.30 116.50,163.50 118.00,166.00 120.00,173.00 121.60,180.00 123.50,192.00 125.50,205.00 127.00,218.00 128.50,230.00 130.50,238.50 131.80,228.00 133.40,215.00 134.80,205.00 135.80,199.30 137.00,194.00 138.30,190.00 140.00,188.00 142.20,185.50 143.82,185.63 145.17,187.09 146.53,188.55 147.88,190.02 149.23,191.50 150.58,192.98 151.93,194.47 153.29,195.96 154.64,197.45 155.99,198.93 157.34,200.41 158.69,201.88 160.05,203.35 161.40,204.81 162.75,206.25 164.10,207.69 165.45,209.12 166.81,210.53 168.16,211.92 169.51,213.30 170.86,214.67 172.21,216.02 173.57,217.35 174.92,218.66 176.27,219.95 177.62,221.23 178.97,222.48 180.33,223.72 181.68,224.93 183.03,226.13 184.38,227.30 185.73,228.45 187.09,229.58 188.44,230.69 189.79,231.78 191.14,232.84 192.49,233.89 193.85,234.91 195.20,236.92 196.55,237.87 197.90,238.80 199.25,239.70 200.61,240.59 201.96,241.46 203.31,242.30 204.66,243.13 206.01,243.94 207.37,244.72 208.72,245.49 210.07,246.24 211.42,246.97 212.77,247.68 214.13,248.37 215.48,249.04 216.83,249.70 218.18,250.34 219.53,250.96 220.89,251.56 222.24,252.15 223.59,252.72 224.94,253.27 226.29,253.81 227.65,254.33 229.00,254.84 230.35,255.34 231.70,255.82 233.05,256.28 234.41,256.73 235.76,257.17 237.11,257.59 238.46,258.01 239.81,258.41 241.17,258.79 242.52,259.06 243.87,259.43 245.22,259.78 246.57,260.13 247.93,260.46 249.28,260.78 250.63,261.09 251.98,261.40 253.33,261.69 254.69,261.97 256.04,262.25 257.39,262.51 258.74,262.77 260.09,263.01 261.45,263.25 262.80,263.48 264.15,263.71 265.50,263.92" fill="none" stroke="#bf3440" stroke-width="1.4" stroke-linejoin="round"/>
<polyline points="61.62,231.53 62.43,229.45 63.24,227.36 64.05,225.28 64.86,223.20 65.67,221.13 66.48,219.07 67.30,217.01 68.11,214.98 68.92,212.96 69.73,210.96 70.54,208.99 71.35,207.04 72.16,205.12 72.97,203.22 73.79,201.36 74.60,199.53 75.41,197.73 76.22,195.97 77.03,194.24 77.84,192.56 78.65,190.91 79.46,189.30 80.28,187.74 81.09,186.22 81.90,184.74 82.71,183.30 83.52,181.91 84.33,180.57 85.14,179.27 85.95,178.02 86.76,176.81 87.58,175.65 88.39,174.54 89.20,173.47 90.01,172.46 90.82,171.49 91.63,170.57 92.44,169.69 93.25,168.86 94.07,168.08 94.88,167.35 95.69,166.66 96.50,166.02 97.31,165.42 98.12,164.87 98.93,164.37 99.74,163.90 100.56,163.49 101.37,163.11 102.18,162.78 102.99,162.49 103.80,162.25 104.61,162.04 105.42,161.88 106.23,161.75 107.04,161.66 107.86,161.61 108.67,161.60 109.48,161.63 110.29,161.69 111.10,161.78 111.91,161.91 112.72,162.08 113.53,162.28 114.35,162.51 115.16,162.77 115.97,163.06 116.78,163.38 117.59,163.73 118.40,164.10 119.21,164.51 120.02,164.94 120.84,165.39 121.65,165.87 122.46,166.38 123.27,166.90 124.08,167.45 124.89,168.02 125.70,168.61 126.51,169.22 127.32,169.85 128.14,170.50 128.95,171.17 129.76,171.85 130.57,172.55 131.38,173.26 132.19,173.99 133.00,174.73 133.81,175.49 134.63,176.26 135.44,177.04 136.25,177.83 137.06,178.63 137.87,179.44 138.68,180.26 139.49,181.09 140.30,181.93 141.12,182.77 141.93,183.62 142.74,184.48 143.55,185.34 144.36,186.21 145.17,187.08 145.98,187.96 146.79,188.84 147.60,189.72 148.42,190.61 149.23,191.50 150.04,192.39 150.85,193.28 151.66,194.17 152.47,195.06 153.28,195.96 154.09,196.85 154.91,197.74 155.72,198.63 156.53,199.52 157.34,200.41 158.15,201.29 158.96,202.17 159.77,203.05 160.58,203.93 161.40,204.80 162.21,205.67 163.02,206.54 163.83,207.40 164.64,208.26 165.45,209.11 166.26,209.96 167.07,210.80 167.88,211.64 168.70,212.47 169.51,213.30 170.32,214.12 171.13,214.94 171.94,215.75 172.75,216.55 173.56,217.34 174.37,218.13 175.19,218.92 176.00,219.69 176.81,220.46 177.62,221.23 178.43,221.98 179.24,222.73 180.05,223.47 180.86,224.20 181.68,224.93 182.49,225.65 183.30,226.36 184.11,227.06 184.92,227.76 185.73,228.45 186.54,229.13 187.35,229.80 188.16,230.47 188.98,231.12 189.79,231.77 190.60,232.42 191.41,233.05 192.22,233.68 193.03,234.30 193.84,234.91 194.65,235.51 195.47,236.10 196.28,236.69 197.09,237.27 197.90,237.84 198.71,238.41 199.52,238.96 200.33,239.51 201.14,240.05 201.96,240.59 202.77,241.11 203.58,241.63 204.39,242.14 205.20,242.64 206.01,243.14 206.82,243.63 207.63,244.11 208.44,244.59 209.26,245.05 210.07,245.51 210.88,245.97 211.69,246.41 212.50,246.85 213.31,247.28 214.12,247.71 214.93,248.13 215.75,248.54 216.56,248.95 217.37,249.35 218.18,249.74 218.99,250.12 219.80,250.50 220.61,250.88 221.42,251.24 222.24,251.61 223.05,251.96 223.86,252.31 224.67,252.65 225.48,252.99 226.29,253.32 227.10,253.65 227.91,253.97 228.72,254.28 229.54,254.59 230.35,254.89 231.16,255.19 231.97,255.49 232.78,255.77 233.59,256.06 234.40,256.33 235.21,256.61 236.03,256.87 236.84,257.14 237.65,257.39 238.46,257.65 239.27,257.89 240.08,258.14 240.89,258.38 241.70,258.61 242.52,258.84 243.33,259.07 244.14,259.29 244.95,259.51 245.76,259.72 246.57,259.93 247.38,260.14 248.19,260.34 249.00,260.54 249.82,260.73 250.63,260.92 251.44,261.11 252.25,261.29 253.06,261.47 253.87,261.64 254.68,261.82 255.49,261.98 256.31,262.15 257.12,262.31 257.93,262.47 258.74,262.63 259.55,262.78 260.36,262.93 261.17,263.08 261.98,263.22 262.80,263.36 263.61,263.50" fill="none" stroke="#1a1a1a" stroke-width="1.8" stroke-dasharray="4 2.4"/>
<rect x="53.6" y="161.5" width="256.59999999999997" height="108.10000000000002" fill="none" stroke="#1e1e1e" stroke-width="1.4"/>
<line x1="196.8" y1="168.60000000000002" x2="209.2" y2="168.60000000000002" stroke="#d04858" stroke-width="1.3"/>
<line x1="197.5" y1="177.60000000000002" x2="209" y2="177.60000000000002" stroke="#1a1a1a" stroke-width="1.5" stroke-dasharray="4 3.2"/>
<line x1="197.5" y1="186.10000000000002" x2="209" y2="186.10000000000002" stroke="#1a1a1a" stroke-width="1.1" stroke-dasharray="1.2 1.5"/>
<text x="211.80" y="171.80" font-family="Liberation Serif, serif" font-size="9.3" fill="#d04858" text-anchor="start" textLength="13.8" lengthAdjust="spacingAndGlyphs" >TES</text>
<text x="211.80" y="180.80" font-family="Liberation Serif, serif" font-size="9.3" fill="#1e1e1e" text-anchor="start" textLength="48.6" lengthAdjust="spacingAndGlyphs" >Planck 260 K</text>
<text x="211.80" y="189.30" font-family="Liberation Serif, serif" font-size="9.3" fill="#1e1e1e" text-anchor="start" textLength="48.6" lengthAdjust="spacingAndGlyphs" >Planck 210 K</text>
<text x="48.60" y="273.50" font-family="Liberation Serif, serif" font-size="11" fill="#1e1e1e" text-anchor="end" textLength="5.6" lengthAdjust="spacingAndGlyphs" >0</text>
<text x="48.60" y="251.88" font-family="Liberation Serif, serif" font-size="11" fill="#1e1e1e" text-anchor="end" textLength="17.8" lengthAdjust="spacingAndGlyphs" >0.02</text>
<text x="48.60" y="230.26" font-family="Liberation Serif, serif" font-size="11" fill="#1e1e1e" text-anchor="end" textLength="17.8" lengthAdjust="spacingAndGlyphs" >0.04</text>
<text x="48.60" y="208.64" font-family="Liberation Serif, serif" font-size="11" fill="#1e1e1e" text-anchor="end" textLength="17.8" lengthAdjust="spacingAndGlyphs" >0.06</text>
<text x="48.60" y="187.02" font-family="Liberation Serif, serif" font-size="11" fill="#1e1e1e" text-anchor="end" textLength="17.8" lengthAdjust="spacingAndGlyphs" >0.08</text>
<text x="48.60" y="165.40" font-family="Liberation Serif, serif" font-size="11" fill="#1e1e1e" text-anchor="end" textLength="17.8" lengthAdjust="spacingAndGlyphs" >0.10</text>
<text x="66.96" y="281.20" font-family="Liberation Serif, serif" font-size="11" fill="#1e1e1e" text-anchor="middle" textLength="15.4" lengthAdjust="spacingAndGlyphs" >200</text>
<text x="93.68" y="281.20" font-family="Liberation Serif, serif" font-size="11" fill="#1e1e1e" text-anchor="middle" textLength="15.4" lengthAdjust="spacingAndGlyphs" >400</text>
<text x="120.40" y="281.20" font-family="Liberation Serif, serif" font-size="11" fill="#1e1e1e" text-anchor="middle" textLength="15.4" lengthAdjust="spacingAndGlyphs" >600</text>
<text x="147.12" y="281.20" font-family="Liberation Serif, serif" font-size="11" fill="#1e1e1e" text-anchor="middle" textLength="15.4" lengthAdjust="spacingAndGlyphs" >800</text>
<text x="173.84" y="281.20" font-family="Liberation Serif, serif" font-size="11" fill="#1e1e1e" text-anchor="middle" textLength="20.5" lengthAdjust="spacingAndGlyphs" >1000</text>
<text x="200.56" y="281.20" font-family="Liberation Serif, serif" font-size="11" fill="#1e1e1e" text-anchor="middle" textLength="20.5" lengthAdjust="spacingAndGlyphs" >1200</text>
<text x="227.28" y="281.20" font-family="Liberation Serif, serif" font-size="11" fill="#1e1e1e" text-anchor="middle" textLength="20.5" lengthAdjust="spacingAndGlyphs" >1400</text>
<text x="254.00" y="281.20" font-family="Liberation Serif, serif" font-size="11" fill="#1e1e1e" text-anchor="middle" textLength="20.5" lengthAdjust="spacingAndGlyphs" >1600</text>
<text x="280.72" y="281.20" font-family="Liberation Serif, serif" font-size="11" fill="#1e1e1e" text-anchor="middle" textLength="20.5" lengthAdjust="spacingAndGlyphs" >1800</text>
<text x="307.44" y="281.20" font-family="Liberation Serif, serif" font-size="11" fill="#1e1e1e" text-anchor="middle" textLength="20.5" lengthAdjust="spacingAndGlyphs" >2000</text>
<text x="181.00" y="298.40" font-family="Liberation Serif, serif" font-size="11.5" fill="#1e1e1e" text-anchor="middle" textLength="111.2" lengthAdjust="spacingAndGlyphs" >WAVENUMBER (1/cm)</text>
<text transform="translate(18.5,217.55) rotate(-90)" x="0" y="3.8" font-family="Liberation Serif, serif" font-size="11" fill="#1e1e1e" text-anchor="middle" textLength="73" lengthAdjust="spacingAndGlyphs">FLUX (W/m<tspan font-size="7.5" dy="-3.8">2</tspan><tspan dy="3.8">·sr)</tspan></text>
<defs><linearGradient id="gc" x1="0" y1="0" x2="0" y2="1"><stop offset="0" stop-color="#e8ebf7"/><stop offset="0.6" stop-color="#f5f7fd"/><stop offset="1" stop-color="#fdfdff"/></linearGradient></defs>
<rect x="53.6" y="315.3" width="256.59999999999997" height="108.09999999999997" fill="url(#gc)"/>
<text x="12.80" y="311.60" font-family="Liberation Serif, serif" font-size="12" font-weight="bold" fill="#1e1e1e" text-anchor="start" >c</text>
<line x1="59.86" y1="423.4" x2="59.86" y2="421.4" stroke="#666" stroke-width="0.7"/>
<line x1="66.62" y1="423.4" x2="66.62" y2="419.9" stroke="#666" stroke-width="0.7"/>
<line x1="73.38" y1="423.4" x2="73.38" y2="421.4" stroke="#666" stroke-width="0.7"/>
<line x1="80.14" y1="423.4" x2="80.14" y2="421.4" stroke="#666" stroke-width="0.7"/>
<line x1="86.90" y1="423.4" x2="86.90" y2="421.4" stroke="#666" stroke-width="0.7"/>
<line x1="93.66" y1="423.4" x2="93.66" y2="419.9" stroke="#666" stroke-width="0.7"/>
<line x1="100.42" y1="423.4" x2="100.42" y2="421.4" stroke="#666" stroke-width="0.7"/>
<line x1="107.18" y1="423.4" x2="107.18" y2="421.4" stroke="#666" stroke-width="0.7"/>
<line x1="113.94" y1="423.4" x2="113.94" y2="421.4" stroke="#666" stroke-width="0.7"/>
<line x1="120.70" y1="423.4" x2="120.70" y2="419.9" stroke="#666" stroke-width="0.7"/>
<line x1="127.46" y1="423.4" x2="127.46" y2="421.4" stroke="#666" stroke-width="0.7"/>
<line x1="134.22" y1="423.4" x2="134.22" y2="421.4" stroke="#666" stroke-width="0.7"/>
<line x1="140.98" y1="423.4" x2="140.98" y2="421.4" stroke="#666" stroke-width="0.7"/>
<line x1="147.74" y1="423.4" x2="147.74" y2="419.9" stroke="#666" stroke-width="0.7"/>
<line x1="154.50" y1="423.4" x2="154.50" y2="421.4" stroke="#666" stroke-width="0.7"/>
<line x1="161.26" y1="423.4" x2="161.26" y2="421.4" stroke="#666" stroke-width="0.7"/>
<line x1="168.02" y1="423.4" x2="168.02" y2="421.4" stroke="#666" stroke-width="0.7"/>
<line x1="174.78" y1="423.4" x2="174.78" y2="419.9" stroke="#666" stroke-width="0.7"/>
<line x1="181.54" y1="423.4" x2="181.54" y2="421.4" stroke="#666" stroke-width="0.7"/>
<line x1="188.30" y1="423.4" x2="188.30" y2="421.4" stroke="#666" stroke-width="0.7"/>
<line x1="195.06" y1="423.4" x2="195.06" y2="421.4" stroke="#666" stroke-width="0.7"/>
<line x1="201.82" y1="423.4" x2="201.82" y2="419.9" stroke="#666" stroke-width="0.7"/>
<line x1="208.58" y1="423.4" x2="208.58" y2="421.4" stroke="#666" stroke-width="0.7"/>
<line x1="215.34" y1="423.4" x2="215.34" y2="421.4" stroke="#666" stroke-width="0.7"/>
<line x1="222.10" y1="423.4" x2="222.10" y2="421.4" stroke="#666" stroke-width="0.7"/>
<line x1="228.86" y1="423.4" x2="228.86" y2="419.9" stroke="#666" stroke-width="0.7"/>
<line x1="235.62" y1="423.4" x2="235.62" y2="421.4" stroke="#666" stroke-width="0.7"/>
<line x1="242.38" y1="423.4" x2="242.38" y2="421.4" stroke="#666" stroke-width="0.7"/>
<line x1="249.14" y1="423.4" x2="249.14" y2="421.4" stroke="#666" stroke-width="0.7"/>
<line x1="255.90" y1="423.4" x2="255.90" y2="419.9" stroke="#666" stroke-width="0.7"/>
<line x1="262.66" y1="423.4" x2="262.66" y2="421.4" stroke="#666" stroke-width="0.7"/>
<line x1="269.42" y1="423.4" x2="269.42" y2="421.4" stroke="#666" stroke-width="0.7"/>
<line x1="276.18" y1="423.4" x2="276.18" y2="421.4" stroke="#666" stroke-width="0.7"/>
<line x1="282.94" y1="423.4" x2="282.94" y2="419.9" stroke="#666" stroke-width="0.7"/>
<line x1="289.70" y1="423.4" x2="289.70" y2="421.4" stroke="#666" stroke-width="0.7"/>
<line x1="296.46" y1="423.4" x2="296.46" y2="421.4" stroke="#666" stroke-width="0.7"/>
<line x1="303.22" y1="423.4" x2="303.22" y2="421.4" stroke="#666" stroke-width="0.7"/>
<line x1="309.98" y1="423.4" x2="309.98" y2="419.9" stroke="#666" stroke-width="0.7"/>
<line x1="53.6" y1="423.40" x2="56.6" y2="423.40" stroke="#666" stroke-width="0.7"/>
<line x1="53.6" y1="418.00" x2="55.6" y2="418.00" stroke="#666" stroke-width="0.7"/>
<line x1="53.6" y1="412.59" x2="55.6" y2="412.59" stroke="#666" stroke-width="0.7"/>
<line x1="53.6" y1="407.19" x2="55.6" y2="407.19" stroke="#666" stroke-width="0.7"/>
<line x1="53.6" y1="401.78" x2="56.6" y2="401.78" stroke="#666" stroke-width="0.7"/>
<line x1="53.6" y1="396.38" x2="55.6" y2="396.38" stroke="#666" stroke-width="0.7"/>
<line x1="53.6" y1="390.97" x2="55.6" y2="390.97" stroke="#666" stroke-width="0.7"/>
<line x1="53.6" y1="385.56" x2="55.6" y2="385.56" stroke="#666" stroke-width="0.7"/>
<line x1="53.6" y1="380.16" x2="56.6" y2="380.16" stroke="#666" stroke-width="0.7"/>
<line x1="53.6" y1="374.75" x2="55.6" y2="374.75" stroke="#666" stroke-width="0.7"/>
<line x1="53.6" y1="369.35" x2="55.6" y2="369.35" stroke="#666" stroke-width="0.7"/>
<line x1="53.6" y1="363.94" x2="55.6" y2="363.94" stroke="#666" stroke-width="0.7"/>
<line x1="53.6" y1="358.54" x2="56.6" y2="358.54" stroke="#666" stroke-width="0.7"/>
<line x1="53.6" y1="353.13" x2="55.6" y2="353.13" stroke="#666" stroke-width="0.7"/>
<line x1="53.6" y1="347.73" x2="55.6" y2="347.73" stroke="#666" stroke-width="0.7"/>
<line x1="53.6" y1="342.33" x2="55.6" y2="342.33" stroke="#666" stroke-width="0.7"/>
<line x1="53.6" y1="336.92" x2="56.6" y2="336.92" stroke="#666" stroke-width="0.7"/>
<line x1="53.6" y1="331.51" x2="55.6" y2="331.51" stroke="#666" stroke-width="0.7"/>
<line x1="53.6" y1="326.11" x2="55.6" y2="326.11" stroke="#666" stroke-width="0.7"/>
<line x1="53.6" y1="320.71" x2="55.6" y2="320.71" stroke="#666" stroke-width="0.7"/>
<line x1="53.6" y1="315.30" x2="56.6" y2="315.30" stroke="#666" stroke-width="0.7"/>
<rect x="193.6" y="319.7" width="105.5" height="29.5" fill="#fff"/>
<polyline points="58.91,400.77 59.72,399.41 60.54,398.06 61.35,396.71 62.16,395.38 62.97,394.05 63.78,392.75 64.59,391.46 65.40,390.19 66.21,388.94 67.03,387.71 67.84,386.52 68.65,385.34 69.46,384.20 70.27,383.09 71.08,382.01 71.89,380.96 72.70,379.95 73.52,378.97 74.33,378.03 75.14,377.12 75.95,376.25 76.76,375.42 77.57,374.62 78.38,373.86 79.19,373.14 80.00,372.46 80.82,371.82 81.63,371.21 82.44,370.65 83.25,370.12 84.06,369.63 84.87,369.17 85.68,368.76 86.49,368.38 87.31,368.03 88.12,367.73 88.93,367.46 89.74,367.22 90.55,367.02 91.36,366.85 92.17,366.72 92.98,366.61 93.80,366.54 94.61,366.50 95.42,366.49 96.23,366.52 97.04,366.56 97.85,366.64 98.66,366.75 99.47,366.88 100.28,367.03 101.10,367.22 101.91,367.42 102.72,367.65 103.53,367.90 104.34,368.18 105.15,368.47 105.96,368.78 106.77,369.12 107.59,369.47 108.40,369.84 109.21,370.22 110.02,370.62 110.83,371.04 111.64,371.47 112.45,371.91 113.26,372.37 114.08,372.84 114.89,373.32 115.70,373.81 116.51,374.32 117.32,374.83 118.13,375.35 118.94,375.88 119.75,376.41 120.56,376.95 121.38,377.50 122.19,378.06 123.00,378.62 123.81,379.18 124.62,379.75 125.43,380.32 126.24,380.89 127.05,381.47 127.87,382.05 128.68,382.63 129.49,383.21 130.30,383.79 131.11,384.38 131.92,384.96 132.73,385.54 133.54,386.12 134.36,386.70 135.17,387.28 135.98,387.85 136.79,388.43 137.60,389.00 138.41,389.57 139.22,390.13 140.03,390.70 140.84,391.25 141.66,391.81 142.47,392.36 143.28,392.91 144.09,393.45 144.90,393.99 145.71,394.52 146.52,395.05 147.33,395.57 148.15,396.09 148.96,396.60 149.77,397.11 150.58,397.61 151.39,398.10 152.20,398.59 153.01,399.08 153.82,399.56 154.64,400.03 155.45,400.50 156.26,400.96 157.07,401.41 157.88,401.86 158.69,402.30 159.50,402.73 160.31,403.16 161.12,403.59 161.94,404.00 162.75,404.41 163.56,404.82 164.37,405.21 165.18,405.60 165.99,405.99 166.80,406.37 167.61,406.74 168.43,407.11 169.24,407.47 170.05,407.82 170.86,408.17 171.67,408.51 172.48,408.84 173.29,409.17 174.10,409.50 174.92,409.82 175.73,410.13 176.54,410.43 177.35,410.73 178.16,411.03 178.97,411.32 179.78,411.60 180.59,411.88 181.40,412.15 182.22,412.42 183.03,412.68 183.84,412.94 184.65,413.19 185.46,413.43 186.27,413.67 187.08,413.91 187.89,414.14 188.71,414.37 189.52,414.59 190.33,414.81 191.14,415.02 191.95,415.23 192.76,415.43 193.57,415.63 194.38,415.82 195.20,416.01 196.01,416.20 196.82,416.38 197.63,416.56 198.44,416.73 199.25,416.90 200.06,417.07 200.87,417.23 201.68,417.39 202.50,417.55 203.31,417.70 204.12,417.85 204.93,417.99 205.74,418.13 206.55,418.27 207.36,418.40 208.17,418.54 208.99,418.66 209.80,418.79 210.61,418.91 211.42,419.03 212.23,419.15 213.04,419.26 213.85,419.37 214.66,419.48 215.48,419.58 216.29,419.69 217.10,419.79 217.91,419.89 218.72,419.98 219.53,420.07 220.34,420.16 221.15,420.25 221.96,420.34 222.78,420.42 223.59,420.50 224.40,420.58 225.21,420.66 226.02,420.74 226.83,420.81 227.64,420.88 228.45,420.95 229.27,421.02 230.08,421.09 230.89,421.15 231.70,421.22 232.51,421.28 233.32,421.34 234.13,421.39 234.94,421.45 235.76,421.51 236.57,421.56 237.38,421.61 238.19,421.66 239.00,421.71 239.81,421.76 240.62,421.81 241.43,421.85 242.24,421.90 243.06,421.94 243.87,421.98 244.68,422.02 245.49,422.06 246.30,422.10 247.11,422.14 247.92,422.18 248.73,422.21 249.55,422.25 250.36,422.28 251.17,422.31 251.98,422.34 252.79,422.37 253.60,422.40 254.41,422.43 255.22,422.46 256.04,422.49 256.85,422.52 257.66,422.54 258.47,422.57 259.28,422.59 260.09,422.62 260.90,422.64 261.71,422.66 262.52,422.68 263.34,422.71" fill="none" stroke="#333" stroke-width="1.5" stroke-dasharray="1.5 1.8"/>
<polyline points="77.00,356.80 80.00,344.30 83.70,330.70 86.20,323.20 87.50,318.00 88.70,315.50 90.00,317.50 91.00,315.80 92.40,318.00 94.90,319.50 97.00,320.00 99.90,320.70 102.00,319.50 104.80,318.20 106.50,320.00 108.60,323.20 111.00,330.70 113.50,336.90 114.30,340.00 114.80,341.90 115.50,342.00 117.30,354.30 119.80,369.20 123.50,384.10 126.00,399.00 128.50,407.80 130.00,409.50 132.20,409.50 134.20,401.60 135.90,392.80 137.00,391.00 138.40,389.10 140.90,379.20 143.40,369.20 145.90,365.50 147.50,366.50 149.60,364.70 153.30,366.70 157.10,373.00 160.80,381.70 163.40,384.80 169.10,388.30 174.80,394.00 181.70,403.10 184.00,404.00 188.50,405.40 196.50,410.00 205.70,412.20 215.90,412.20 226.20,415.70 233.10,412.90 239.90,414.50 251.30,419.10 262.70,422.10" fill="none" stroke="#bf3440" stroke-width="1.8" stroke-linejoin="round"/>
<polyline points="61.62,385.33 62.43,383.25 63.24,381.16 64.05,379.08 64.86,377.00 65.67,374.93 66.48,372.87 67.30,370.81 68.11,368.78 68.92,366.76 69.73,364.76 70.54,362.79 71.35,360.84 72.16,358.92 72.97,357.02 73.79,355.16 74.60,353.33 75.41,351.53 76.22,349.77 77.03,348.04 77.84,346.36 78.65,344.71 79.46,343.10 80.28,341.54 81.09,340.02 81.90,338.54 82.71,337.10 83.52,335.71 84.33,334.37 85.14,333.07 85.95,331.82 86.76,330.61 87.58,329.45 88.39,328.34 89.20,327.27 90.01,326.26 90.82,325.29 91.63,324.37 92.44,323.49 93.25,322.66 94.07,321.88 94.88,321.15 95.69,320.46 96.50,319.82 97.31,319.22 98.12,318.67 98.93,318.17 99.74,317.70 100.56,317.29 101.37,316.91 102.18,316.58 102.99,316.29 103.80,316.05 104.61,315.84 105.42,315.68 106.23,315.55 107.04,315.46 107.86,315.41 108.67,315.40 109.48,315.43 110.29,315.49 111.10,315.58 111.91,315.71 112.72,315.88 113.53,316.08 114.35,316.31 115.16,316.57 115.97,316.86 116.78,317.18 117.59,317.53 118.40,317.90 119.21,318.31 120.02,318.74 120.84,319.19 121.65,319.67 122.46,320.18 123.27,320.70 124.08,321.25 124.89,321.82 125.70,322.41 126.51,323.02 127.32,323.65 128.14,324.30 128.95,324.97 129.76,325.65 130.57,326.35 131.38,327.06 132.19,327.79 133.00,328.53 133.81,329.29 134.63,330.06 135.44,330.84 136.25,331.63 137.06,332.43 137.87,333.24 138.68,334.06 139.49,334.89 140.30,335.73 141.12,336.57 141.93,337.42 142.74,338.28 143.55,339.14 144.36,340.01 145.17,340.88 145.98,341.76 146.79,342.64 147.60,343.52 148.42,344.41 149.23,345.30 150.04,346.19 150.85,347.08 151.66,347.97 152.47,348.86 153.28,349.76 154.09,350.65 154.91,351.54 155.72,352.43 156.53,353.32 157.34,354.21 158.15,355.09 158.96,355.97 159.77,356.85 160.58,357.73 161.40,358.60 162.21,359.47 163.02,360.34 163.83,361.20 164.64,362.06 165.45,362.91 166.26,363.76 167.07,364.60 167.88,365.44 168.70,366.27 169.51,367.10 170.32,367.92 171.13,368.74 171.94,369.55 172.75,370.35 173.56,371.14 174.37,371.93 175.19,372.72 176.00,373.49 176.81,374.26 177.62,375.03 178.43,375.78 179.24,376.53 180.05,377.27 180.86,378.00 181.68,378.73 182.49,379.45 183.30,380.16 184.11,380.86 184.92,381.56 185.73,382.25 186.54,382.93 187.35,383.60 188.16,384.27 188.98,384.92 189.79,385.57 190.60,386.22 191.41,386.85 192.22,387.48 193.03,388.10 193.84,388.71 194.65,389.31 195.47,389.90 196.28,390.49 197.09,391.07 197.90,391.64 198.71,392.21 199.52,392.76 200.33,393.31 201.14,393.85 201.96,394.39 202.77,394.91 203.58,395.43 204.39,395.94 205.20,396.44 206.01,396.94 206.82,397.43 207.63,397.91 208.44,398.39 209.26,398.85 210.07,399.31 210.88,399.77 211.69,400.21 212.50,400.65 213.31,401.08 214.12,401.51 214.93,401.93 215.75,402.34 216.56,402.75 217.37,403.15 218.18,403.54 218.99,403.92 219.80,404.30 220.61,404.68 221.42,405.04 222.24,405.41 223.05,405.76 223.86,406.11 224.67,406.45 225.48,406.79 226.29,407.12 227.10,407.45 227.91,407.77 228.72,408.08 229.54,408.39 230.35,408.69 231.16,408.99 231.97,409.29 232.78,409.57 233.59,409.86 234.40,410.13 235.21,410.41 236.03,410.67 236.84,410.94 237.65,411.19 238.46,411.45 239.27,411.69 240.08,411.94 240.89,412.18 241.70,412.41 242.52,412.64 243.33,412.87 244.14,413.09 244.95,413.31 245.76,413.52 246.57,413.73 247.38,413.94 248.19,414.14 249.00,414.34 249.82,414.53 250.63,414.72 251.44,414.91 252.25,415.09 253.06,415.27 253.87,415.44 254.68,415.62 255.49,415.78 256.31,415.95 257.12,416.11 257.93,416.27 258.74,416.43 259.55,416.58 260.36,416.73 261.17,416.88 261.98,417.02 262.80,417.16 263.61,417.30" fill="none" stroke="#1a1a1a" stroke-width="1.8" stroke-dasharray="4 2.4"/>
<rect x="53.6" y="315.3" width="256.59999999999997" height="108.09999999999997" fill="none" stroke="#1e1e1e" stroke-width="1.4"/>
<line x1="196.8" y1="325.5" x2="209.2" y2="325.5" stroke="#d04858" stroke-width="1.3"/>
<line x1="197.5" y1="334.5" x2="209" y2="334.5" stroke="#1a1a1a" stroke-width="1.5" stroke-dasharray="4 3.2"/>
<line x1="197.5" y1="343.0" x2="209" y2="343.0" stroke="#1a1a1a" stroke-width="1.1" stroke-dasharray="1.2 1.5"/>
<text x="211.80" y="328.70" font-family="Liberation Serif, serif" font-size="9.3" fill="#d04858" text-anchor="start" textLength="27" lengthAdjust="spacingAndGlyphs" >Venera</text>
<text x="211.80" y="337.70" font-family="Liberation Serif, serif" font-size="9.3" fill="#1e1e1e" text-anchor="start" textLength="48.6" lengthAdjust="spacingAndGlyphs" >Planck 260 K</text>
<text x="211.80" y="346.20" font-family="Liberation Serif, serif" font-size="9.3" fill="#1e1e1e" text-anchor="start" textLength="48.6" lengthAdjust="spacingAndGlyphs" >Planck 210 K</text>
<text x="48.60" y="427.30" font-family="Liberation Serif, serif" font-size="11" fill="#1e1e1e" text-anchor="end" textLength="5.6" lengthAdjust="spacingAndGlyphs" >0</text>
<text x="48.60" y="405.68" font-family="Liberation Serif, serif" font-size="11" fill="#1e1e1e" text-anchor="end" textLength="17.8" lengthAdjust="spacingAndGlyphs" >0.02</text>
<text x="48.60" y="384.06" font-family="Liberation Serif, serif" font-size="11" fill="#1e1e1e" text-anchor="end" textLength="17.8" lengthAdjust="spacingAndGlyphs" >0.04</text>
<text x="48.60" y="362.44" font-family="Liberation Serif, serif" font-size="11" fill="#1e1e1e" text-anchor="end" textLength="17.8" lengthAdjust="spacingAndGlyphs" >0.06</text>
<text x="48.60" y="340.82" font-family="Liberation Serif, serif" font-size="11" fill="#1e1e1e" text-anchor="end" textLength="17.8" lengthAdjust="spacingAndGlyphs" >0.08</text>
<text x="48.60" y="319.20" font-family="Liberation Serif, serif" font-size="11" fill="#1e1e1e" text-anchor="end" textLength="17.8" lengthAdjust="spacingAndGlyphs" >0.10</text>
<text x="66.96" y="435.00" font-family="Liberation Serif, serif" font-size="11" fill="#1e1e1e" text-anchor="middle" textLength="15.4" lengthAdjust="spacingAndGlyphs" >200</text>
<text x="93.68" y="435.00" font-family="Liberation Serif, serif" font-size="11" fill="#1e1e1e" text-anchor="middle" textLength="15.4" lengthAdjust="spacingAndGlyphs" >400</text>
<text x="120.40" y="435.00" font-family="Liberation Serif, serif" font-size="11" fill="#1e1e1e" text-anchor="middle" textLength="15.4" lengthAdjust="spacingAndGlyphs" >600</text>
<text x="147.12" y="435.00" font-family="Liberation Serif, serif" font-size="11" fill="#1e1e1e" text-anchor="middle" textLength="15.4" lengthAdjust="spacingAndGlyphs" >800</text>
<text x="173.84" y="435.00" font-family="Liberation Serif, serif" font-size="11" fill="#1e1e1e" text-anchor="middle" textLength="20.5" lengthAdjust="spacingAndGlyphs" >1000</text>
<text x="200.56" y="435.00" font-family="Liberation Serif, serif" font-size="11" fill="#1e1e1e" text-anchor="middle" textLength="20.5" lengthAdjust="spacingAndGlyphs" >1200</text>
<text x="227.28" y="435.00" font-family="Liberation Serif, serif" font-size="11" fill="#1e1e1e" text-anchor="middle" textLength="20.5" lengthAdjust="spacingAndGlyphs" >1400</text>
<text x="254.00" y="435.00" font-family="Liberation Serif, serif" font-size="11" fill="#1e1e1e" text-anchor="middle" textLength="20.5" lengthAdjust="spacingAndGlyphs" >1600</text>
<text x="280.72" y="435.00" font-family="Liberation Serif, serif" font-size="11" fill="#1e1e1e" text-anchor="middle" textLength="20.5" lengthAdjust="spacingAndGlyphs" >1800</text>
<text x="307.44" y="435.00" font-family="Liberation Serif, serif" font-size="11" fill="#1e1e1e" text-anchor="middle" textLength="20.5" lengthAdjust="spacingAndGlyphs" >2000</text>
<text x="181.00" y="452.20" font-family="Liberation Serif, serif" font-size="11.5" fill="#1e1e1e" text-anchor="middle" textLength="111.2" lengthAdjust="spacingAndGlyphs" >WAVENUMBER (1/cm)</text>
<text transform="translate(18.5,371.35) rotate(-90)" x="0" y="3.8" font-family="Liberation Serif, serif" font-size="11" fill="#1e1e1e" text-anchor="middle" textLength="73" lengthAdjust="spacingAndGlyphs">FLUX (W/m<tspan font-size="7.5" dy="-3.8">2</tspan><tspan dy="3.8">·sr)</tspan></text>
<defs><linearGradient id="es" x1="0" y1="0" x2="0" y2="1"><stop offset="0" stop-color="#e8e9f6"/><stop offset="1" stop-color="#fafafd"/></linearGradient><linearGradient id="et" x1="0" y1="0" x2="0" y2="1"><stop offset="0" stop-color="#e1f0f6"/><stop offset="0.45" stop-color="#eef7fa"/><stop offset="1" stop-color="#f8fbfc"/></linearGradient></defs>
<rect x="373.5" y="32.2" width="80.30000000000001" height="48.0" fill="url(#es)"/>
<rect x="373.5" y="80.2" width="80.30000000000001" height="48.39999999999999" fill="url(#et)"/>
<line x1="373.5" y1="80.2" x2="453.8" y2="80.2" stroke="#8a8a8a" stroke-width="1"/>
<line x1="373.50" y1="128.6" x2="373.50" y2="131.40" stroke="#333" stroke-width="0.8"/>
<line x1="380.80" y1="128.6" x2="380.80" y2="131.40" stroke="#333" stroke-width="0.8"/>
<line x1="388.10" y1="128.6" x2="388.10" y2="131.40" stroke="#333" stroke-width="0.8"/>
<line x1="395.40" y1="128.6" x2="395.40" y2="131.40" stroke="#333" stroke-width="0.8"/>
<line x1="402.70" y1="128.6" x2="402.70" y2="131.40" stroke="#333" stroke-width="0.8"/>
<line x1="410.00" y1="128.6" x2="410.00" y2="131.40" stroke="#333" stroke-width="0.8"/>
<line x1="417.30" y1="128.6" x2="417.30" y2="131.40" stroke="#333" stroke-width="0.8"/>
<line x1="424.60" y1="128.6" x2="424.60" y2="131.40" stroke="#333" stroke-width="0.8"/>
<line x1="431.90" y1="128.6" x2="431.90" y2="131.40" stroke="#333" stroke-width="0.8"/>
<line x1="439.20" y1="128.6" x2="439.20" y2="131.40" stroke="#333" stroke-width="0.8"/>
<line x1="446.50" y1="128.6" x2="446.50" y2="131.40" stroke="#333" stroke-width="0.8"/>
<line x1="453.80" y1="128.6" x2="453.80" y2="131.40" stroke="#333" stroke-width="0.8"/>
<line x1="373.5" y1="32.20" x2="376.5" y2="32.20" stroke="#444" stroke-width="0.7"/>
<line x1="373.5" y1="46.71" x2="375.5" y2="46.71" stroke="#444" stroke-width="0.7"/>
<line x1="373.5" y1="55.20" x2="375.5" y2="55.20" stroke="#444" stroke-width="0.7"/>
<line x1="373.5" y1="61.22" x2="375.5" y2="61.22" stroke="#444" stroke-width="0.7"/>
<line x1="373.5" y1="65.89" x2="375.5" y2="65.89" stroke="#444" stroke-width="0.7"/>
<line x1="373.5" y1="69.71" x2="375.5" y2="69.71" stroke="#444" stroke-width="0.7"/>
<line x1="373.5" y1="72.93" x2="375.5" y2="72.93" stroke="#444" stroke-width="0.7"/>
<line x1="373.5" y1="75.73" x2="375.5" y2="75.73" stroke="#444" stroke-width="0.7"/>
<line x1="373.5" y1="78.19" x2="375.5" y2="78.19" stroke="#444" stroke-width="0.7"/>
<line x1="373.5" y1="80.40" x2="376.5" y2="80.40" stroke="#444" stroke-width="0.7"/>
<line x1="373.5" y1="94.91" x2="375.5" y2="94.91" stroke="#444" stroke-width="0.7"/>
<line x1="373.5" y1="103.40" x2="375.5" y2="103.40" stroke="#444" stroke-width="0.7"/>
<line x1="373.5" y1="109.42" x2="375.5" y2="109.42" stroke="#444" stroke-width="0.7"/>
<line x1="373.5" y1="114.09" x2="375.5" y2="114.09" stroke="#444" stroke-width="0.7"/>
<line x1="373.5" y1="117.91" x2="375.5" y2="117.91" stroke="#444" stroke-width="0.7"/>
<line x1="373.5" y1="121.13" x2="375.5" y2="121.13" stroke="#444" stroke-width="0.7"/>
<line x1="373.5" y1="123.93" x2="375.5" y2="123.93" stroke="#444" stroke-width="0.7"/>
<line x1="373.5" y1="126.39" x2="375.5" y2="126.39" stroke="#444" stroke-width="0.7"/>
<path d="M400.8,31.7 L385.1,79.6  C385.58,80.70 386.67,83.90 388.00,86.20 C389.33,88.50 391.05,91.10 393.10,93.40 C395.15,95.70 397.65,97.93 400.30,100.00 C402.95,102.07 405.60,103.75 409.00,105.80 C412.40,107.85 416.82,110.00 420.70,112.30 C424.58,114.60 428.43,117.05 432.30,119.60 C436.17,122.15 441.75,126.10 443.90,127.60 C446.05,129.10 444.98,128.43 445.20,128.60" fill="none" stroke="#1a1a1a" stroke-width="1.4" stroke-linejoin="round"/>
<line x1="421.4" y1="80.2" x2="415.7" y2="88.5" stroke="#2a2a2a" stroke-width="1.1"/>
<rect x="373.5" y="32.2" width="80.30000000000001" height="96.39999999999999" fill="none" stroke="#2a2a2a" stroke-width="1.3"/>
<line x1="453.8" y1="32.2" x2="453.8" y2="128.6" stroke="#808080" stroke-width="1.3"/>
<path d="M391.9,40.6 L388.6,51.2 Q391.9,49.2 395.2,51.2 Z" fill="#e4321e"/>
<path d="M392.30,49.50 C393.13,51.50 394.90,51.83 394.80,55.50 C394.70,59.17 394.60,57.33 392.00,60.50 C389.40,63.67 388.17,61.83 387.00,65.00 C385.83,68.17 385.17,66.50 388.50,70.00 C391.83,73.50 395.50,71.83 397.00,75.50 C398.50,79.17 396.07,77.33 393.00,81.00 C389.93,84.67 389.53,84.67 387.80,86.50" fill="none" stroke="#e4321e" stroke-width="1.25" stroke-linecap="round" stroke-linejoin="round"/>
<path d="M446.7,84.6 L443.2,95.8 Q446.6,93.8 450.0,95.8 Z" fill="#e4321e"/>
<path d="M447.00,95.00 C447.50,97.00 448.33,97.67 448.50,101.00 C448.67,104.33 449.83,102.33 447.50,105.00 C445.17,107.67 443.00,106.33 441.50,109.00 C440.00,111.67 439.67,110.17 443.00,113.00 C446.33,115.83 449.83,114.17 451.50,117.50 C453.17,120.83 450.83,119.83 448.00,123.00 C445.17,126.17 444.50,125.17 443.00,127.00 C441.50,128.83 443.33,128.00 443.50,128.50" fill="none" stroke="#e4321e" stroke-width="1.25" stroke-linecap="round" stroke-linejoin="round"/>
<text x="451.60" y="43.80" font-family="Liberation Serif, serif" font-size="11.5" font-weight="bold" fill="#1e1e1e" text-anchor="end" textLength="24.1" lengthAdjust="spacingAndGlyphs" >Earth</text>
<text x="425.20" y="56.70" font-family="Liberation Serif, serif" font-size="9.5" fill="#333" text-anchor="middle" textLength="44.2" lengthAdjust="spacingAndGlyphs" >Stratosphere</text>
<text x="419.00" y="94.30" font-family="Liberation Serif, serif" font-size="9.5" fill="#d9434f" text-anchor="middle" textLength="39.9" lengthAdjust="spacingAndGlyphs" >Tropopause</text>
<text x="400.00" y="122.10" font-family="Liberation Serif, serif" font-size="9" fill="#2a2a2a" text-anchor="middle" textLength="43.3" lengthAdjust="spacingAndGlyphs" >Troposphere</text>
<text x="371.00" y="36.60" font-family="Liberation Serif, serif" font-size="10.5" fill="#1e1e1e" text-anchor="end" textLength="10.4" lengthAdjust="spacingAndGlyphs" >10</text>
<text x="371.00" y="84.90" font-family="Liberation Serif, serif" font-size="10.5" fill="#1e1e1e" text-anchor="end" textLength="15" lengthAdjust="spacingAndGlyphs" >100</text>
<text x="371.00" y="133.00" font-family="Liberation Serif, serif" font-size="10.5" fill="#1e1e1e" text-anchor="end" textLength="18" lengthAdjust="spacingAndGlyphs" >1000</text>
<text x="373.50" y="141.60" font-family="Liberation Serif, serif" font-size="10.5" fill="#1e1e1e" text-anchor="middle" textLength="14.5" lengthAdjust="spacingAndGlyphs" >190</text>
<text x="402.40" y="141.60" font-family="Liberation Serif, serif" font-size="10.5" fill="#1e1e1e" text-anchor="middle" textLength="14.5" lengthAdjust="spacingAndGlyphs" >230</text>
<text x="431.30" y="141.60" font-family="Liberation Serif, serif" font-size="10.5" fill="#1e1e1e" text-anchor="middle" textLength="14.5" lengthAdjust="spacingAndGlyphs" >270</text>
<text x="413.50" y="153.20" font-family="Liberation Serif, serif" font-size="10.5" fill="#1e1e1e" text-anchor="middle" textLength="84.4" lengthAdjust="spacingAndGlyphs" >TEMPERATURE (K)</text>
<text transform="translate(343.3,82.2) rotate(-90)" y="3.8" font-family="Liberation Serif, serif" font-size="11" fill="#1e1e1e" text-anchor="middle" textLength="90.4" lengthAdjust="spacingAndGlyphs">PRESSURE (100 Pa)</text>
<rect x="373.0" y="161.6" width="80.60000000000002" height="96.1" fill="#fff"/>
<line x1="373.00" y1="257.7" x2="373.00" y2="260.50" stroke="#333" stroke-width="0.8"/>
<line x1="380.33" y1="257.7" x2="380.33" y2="260.50" stroke="#333" stroke-width="0.8"/>
<line x1="387.65" y1="257.7" x2="387.65" y2="260.50" stroke="#333" stroke-width="0.8"/>
<line x1="394.98" y1="257.7" x2="394.98" y2="260.50" stroke="#333" stroke-width="0.8"/>
<line x1="402.31" y1="257.7" x2="402.31" y2="260.50" stroke="#333" stroke-width="0.8"/>
<line x1="409.64" y1="257.7" x2="409.64" y2="260.50" stroke="#333" stroke-width="0.8"/>
<line x1="416.96" y1="257.7" x2="416.96" y2="260.50" stroke="#333" stroke-width="0.8"/>
<line x1="424.29" y1="257.7" x2="424.29" y2="260.50" stroke="#333" stroke-width="0.8"/>
<line x1="431.62" y1="257.7" x2="431.62" y2="260.50" stroke="#333" stroke-width="0.8"/>
<line x1="438.95" y1="257.7" x2="438.95" y2="260.50" stroke="#333" stroke-width="0.8"/>
<line x1="446.27" y1="257.7" x2="446.27" y2="260.50" stroke="#333" stroke-width="0.8"/>
<line x1="453.60" y1="257.7" x2="453.60" y2="260.50" stroke="#333" stroke-width="0.8"/>
<line x1="373.0" y1="161.60" x2="376.0" y2="161.60" stroke="#444" stroke-width="0.7"/>
<line x1="373.0" y1="177.16" x2="375.0" y2="177.16" stroke="#444" stroke-width="0.7"/>
<line x1="373.0" y1="186.27" x2="375.0" y2="186.27" stroke="#444" stroke-width="0.7"/>
<line x1="373.0" y1="192.73" x2="375.0" y2="192.73" stroke="#444" stroke-width="0.7"/>
<line x1="373.0" y1="197.74" x2="375.0" y2="197.74" stroke="#444" stroke-width="0.7"/>
<line x1="373.0" y1="201.83" x2="375.0" y2="201.83" stroke="#444" stroke-width="0.7"/>
<line x1="373.0" y1="205.29" x2="375.0" y2="205.29" stroke="#444" stroke-width="0.7"/>
<line x1="373.0" y1="208.29" x2="375.0" y2="208.29" stroke="#444" stroke-width="0.7"/>
<line x1="373.0" y1="210.93" x2="375.0" y2="210.93" stroke="#444" stroke-width="0.7"/>
<line x1="373.0" y1="213.30" x2="376.0" y2="213.30" stroke="#444" stroke-width="0.7"/>
<line x1="373.0" y1="228.86" x2="375.0" y2="228.86" stroke="#444" stroke-width="0.7"/>
<line x1="373.0" y1="237.97" x2="375.0" y2="237.97" stroke="#444" stroke-width="0.7"/>
<line x1="373.0" y1="244.43" x2="375.0" y2="244.43" stroke="#444" stroke-width="0.7"/>
<line x1="373.0" y1="249.44" x2="375.0" y2="249.44" stroke="#444" stroke-width="0.7"/>
<line x1="373.0" y1="253.53" x2="375.0" y2="253.53" stroke="#444" stroke-width="0.7"/>
<line x1="373.0" y1="256.99" x2="375.0" y2="256.99" stroke="#444" stroke-width="0.7"/>
<polyline points="390.70,174.20 389.20,175.30 391.80,178.60 394.00,182.90 396.60,186.20 395.80,188.00 398.00,191.70 400.60,197.10 402.00,198.50 404.90,201.50 407.00,204.00 409.30,206.90 410.50,209.50 411.90,212.40 413.00,214.00 414.80,217.90 415.40,222.20 414.80,223.30 419.10,227.70 426.80,233.10 435.50,237.50 446.40,246.20" fill="none" stroke="#1a1a1a" stroke-width="1.15" stroke-linejoin="round"/>
<rect x="373.0" y="161.6" width="80.60000000000002" height="96.1" fill="none" stroke="#1e1e1e" stroke-width="1.3"/>
<path d="M419.2,190.1 L414.6,201.0 Q417.9,199.0 421.2,201.0 Z" fill="#e4321e"/>
<path d="M419.00,200.50 C419.50,202.00 420.33,202.33 420.50,205.00 C420.67,207.67 421.67,206.33 419.50,208.50 C417.33,210.67 415.17,209.50 414.00,211.50 C412.83,213.50 412.67,212.50 416.00,214.50 C419.33,216.50 422.67,215.50 424.00,217.50 C425.33,219.50 423.00,218.67 420.00,220.50 C417.00,222.33 416.83,222.00 415.00,223.00 C413.17,224.00 414.67,223.33 414.50,223.50" fill="none" stroke="#e4321e" stroke-width="1.25" stroke-linecap="round" stroke-linejoin="round"/>
<path d="M449.6,205.5 L445.6,216.0 Q449.1,214.0 452.6,216.0 Z" fill="#e4321e"/>
<path d="M450.00,215.50 C450.50,217.67 451.83,218.50 451.50,222.00 C451.17,225.50 451.67,223.50 449.00,226.00 C446.33,228.50 444.67,227.17 443.50,229.50 C442.33,231.83 442.00,230.67 445.50,233.00 C449.00,235.33 452.17,234.00 454.00,236.50 C455.83,239.00 453.67,237.83 451.00,240.50 C448.33,243.17 447.83,243.00 446.00,244.50 C444.17,246.00 445.67,244.83 445.50,245.00" fill="none" stroke="#e4321e" stroke-width="1.25" stroke-linecap="round" stroke-linejoin="round"/>
<text x="451.40" y="172.90" font-family="Liberation Serif, serif" font-size="11.5" font-weight="bold" fill="#1e1e1e" text-anchor="end" textLength="23.8" lengthAdjust="spacingAndGlyphs" >Mars</text>
<text x="370.00" y="165.30" font-family="Liberation Serif, serif" font-size="10" fill="#1e1e1e" text-anchor="end" textLength="8.8" lengthAdjust="spacingAndGlyphs" >10</text>
<text x="370.00" y="217.10" font-family="Liberation Serif, serif" font-size="10" fill="#1e1e1e" text-anchor="end" textLength="12.8" lengthAdjust="spacingAndGlyphs" >100</text>
<text x="373.10" y="272.20" font-family="Liberation Serif, serif" font-size="10.5" fill="#1e1e1e" text-anchor="middle" textLength="14.5" lengthAdjust="spacingAndGlyphs" >150</text>
<text x="402.80" y="272.20" font-family="Liberation Serif, serif" font-size="10.5" fill="#1e1e1e" text-anchor="middle" textLength="14.5" lengthAdjust="spacingAndGlyphs" >190</text>
<text x="432.00" y="272.20" font-family="Liberation Serif, serif" font-size="10.5" fill="#1e1e1e" text-anchor="middle" textLength="14.5" lengthAdjust="spacingAndGlyphs" >230</text>
<text x="413.20" y="283.50" font-family="Liberation Serif, serif" font-size="10.5" fill="#1e1e1e" text-anchor="middle" textLength="82.8" lengthAdjust="spacingAndGlyphs" >TEMPERATURE (K)</text>
<text transform="translate(342.7,209.8) rotate(-90)" y="3.8" font-family="Liberation Serif, serif" font-size="11" fill="#1e1e1e" text-anchor="middle" textLength="73.5" lengthAdjust="spacingAndGlyphs">PRESSURE (Pa)</text>
<rect x="373.2" y="312.6" width="80.40000000000003" height="96.39999999999998" fill="#fff"/>
<line x1="373.20" y1="409.0" x2="373.20" y2="406.12" stroke="#333" stroke-width="0.8"/>
<line x1="375.50" y1="409.0" x2="375.50" y2="407.20" stroke="#333" stroke-width="0.8"/>
<line x1="377.79" y1="409.0" x2="377.79" y2="407.20" stroke="#333" stroke-width="0.8"/>
<line x1="380.09" y1="409.0" x2="380.09" y2="407.20" stroke="#333" stroke-width="0.8"/>
<line x1="382.39" y1="409.0" x2="382.39" y2="407.20" stroke="#333" stroke-width="0.8"/>
<line x1="384.69" y1="409.0" x2="384.69" y2="406.12" stroke="#333" stroke-width="0.8"/>
<line x1="386.98" y1="409.0" x2="386.98" y2="407.20" stroke="#333" stroke-width="0.8"/>
<line x1="389.28" y1="409.0" x2="389.28" y2="407.20" stroke="#333" stroke-width="0.8"/>
<line x1="391.58" y1="409.0" x2="391.58" y2="407.20" stroke="#333" stroke-width="0.8"/>
<line x1="393.87" y1="409.0" x2="393.87" y2="407.20" stroke="#333" stroke-width="0.8"/>
<line x1="396.17" y1="409.0" x2="396.17" y2="406.12" stroke="#333" stroke-width="0.8"/>
<line x1="398.47" y1="409.0" x2="398.47" y2="407.20" stroke="#333" stroke-width="0.8"/>
<line x1="400.77" y1="409.0" x2="400.77" y2="407.20" stroke="#333" stroke-width="0.8"/>
<line x1="403.06" y1="409.0" x2="403.06" y2="407.20" stroke="#333" stroke-width="0.8"/>
<line x1="405.36" y1="409.0" x2="405.36" y2="407.20" stroke="#333" stroke-width="0.8"/>
<line x1="407.66" y1="409.0" x2="407.66" y2="406.12" stroke="#333" stroke-width="0.8"/>
<line x1="409.95" y1="409.0" x2="409.95" y2="407.20" stroke="#333" stroke-width="0.8"/>
<line x1="412.25" y1="409.0" x2="412.25" y2="407.20" stroke="#333" stroke-width="0.8"/>
<line x1="414.55" y1="409.0" x2="414.55" y2="407.20" stroke="#333" stroke-width="0.8"/>
<line x1="416.85" y1="409.0" x2="416.85" y2="407.20" stroke="#333" stroke-width="0.8"/>
<line x1="419.14" y1="409.0" x2="419.14" y2="406.12" stroke="#333" stroke-width="0.8"/>
<line x1="421.44" y1="409.0" x2="421.44" y2="407.20" stroke="#333" stroke-width="0.8"/>
<line x1="423.74" y1="409.0" x2="423.74" y2="407.20" stroke="#333" stroke-width="0.8"/>
<line x1="426.03" y1="409.0" x2="426.03" y2="407.20" stroke="#333" stroke-width="0.8"/>
<line x1="428.33" y1="409.0" x2="428.33" y2="407.20" stroke="#333" stroke-width="0.8"/>
<line x1="430.63" y1="409.0" x2="430.63" y2="406.12" stroke="#333" stroke-width="0.8"/>
<line x1="432.93" y1="409.0" x2="432.93" y2="407.20" stroke="#333" stroke-width="0.8"/>
<line x1="435.22" y1="409.0" x2="435.22" y2="407.20" stroke="#333" stroke-width="0.8"/>
<line x1="437.52" y1="409.0" x2="437.52" y2="407.20" stroke="#333" stroke-width="0.8"/>
<line x1="439.82" y1="409.0" x2="439.82" y2="407.20" stroke="#333" stroke-width="0.8"/>
<line x1="442.11" y1="409.0" x2="442.11" y2="406.12" stroke="#333" stroke-width="0.8"/>
<line x1="444.41" y1="409.0" x2="444.41" y2="407.20" stroke="#333" stroke-width="0.8"/>
<line x1="446.71" y1="409.0" x2="446.71" y2="407.20" stroke="#333" stroke-width="0.8"/>
<line x1="449.01" y1="409.0" x2="449.01" y2="407.20" stroke="#333" stroke-width="0.8"/>
<line x1="451.30" y1="409.0" x2="451.30" y2="407.20" stroke="#333" stroke-width="0.8"/>
<line x1="453.60" y1="409.0" x2="453.60" y2="406.12" stroke="#333" stroke-width="0.8"/>
<line x1="373.2" y1="312.60" x2="376.2" y2="312.60" stroke="#444" stroke-width="0.7"/>
<line x1="373.2" y1="318.40" x2="375.2" y2="318.40" stroke="#444" stroke-width="0.7"/>
<line x1="373.2" y1="321.80" x2="375.2" y2="321.80" stroke="#444" stroke-width="0.7"/>
<line x1="373.2" y1="324.21" x2="375.2" y2="324.21" stroke="#444" stroke-width="0.7"/>
<line x1="373.2" y1="326.08" x2="375.2" y2="326.08" stroke="#444" stroke-width="0.7"/>
<line x1="373.2" y1="327.60" x2="375.2" y2="327.60" stroke="#444" stroke-width="0.7"/>
<line x1="373.2" y1="328.89" x2="375.2" y2="328.89" stroke="#444" stroke-width="0.7"/>
<line x1="373.2" y1="330.01" x2="375.2" y2="330.01" stroke="#444" stroke-width="0.7"/>
<line x1="373.2" y1="331.00" x2="375.2" y2="331.00" stroke="#444" stroke-width="0.7"/>
<line x1="373.2" y1="331.88" x2="376.2" y2="331.88" stroke="#444" stroke-width="0.7"/>
<line x1="373.2" y1="337.68" x2="375.2" y2="337.68" stroke="#444" stroke-width="0.7"/>
<line x1="373.2" y1="341.08" x2="375.2" y2="341.08" stroke="#444" stroke-width="0.7"/>
<line x1="373.2" y1="343.49" x2="375.2" y2="343.49" stroke="#444" stroke-width="0.7"/>
<line x1="373.2" y1="345.36" x2="375.2" y2="345.36" stroke="#444" stroke-width="0.7"/>
<line x1="373.2" y1="346.88" x2="375.2" y2="346.88" stroke="#444" stroke-width="0.7"/>
<line x1="373.2" y1="348.17" x2="375.2" y2="348.17" stroke="#444" stroke-width="0.7"/>
<line x1="373.2" y1="349.29" x2="375.2" y2="349.29" stroke="#444" stroke-width="0.7"/>
<line x1="373.2" y1="350.28" x2="375.2" y2="350.28" stroke="#444" stroke-width="0.7"/>
<line x1="373.2" y1="351.16" x2="376.2" y2="351.16" stroke="#444" stroke-width="0.7"/>
<line x1="373.2" y1="356.96" x2="375.2" y2="356.96" stroke="#444" stroke-width="0.7"/>
<line x1="373.2" y1="360.36" x2="375.2" y2="360.36" stroke="#444" stroke-width="0.7"/>
<line x1="373.2" y1="362.77" x2="375.2" y2="362.77" stroke="#444" stroke-width="0.7"/>
<line x1="373.2" y1="364.64" x2="375.2" y2="364.64" stroke="#444" stroke-width="0.7"/>
<line x1="373.2" y1="366.16" x2="375.2" y2="366.16" stroke="#444" stroke-width="0.7"/>
<line x1="373.2" y1="367.45" x2="375.2" y2="367.45" stroke="#444" stroke-width="0.7"/>
<line x1="373.2" y1="368.57" x2="375.2" y2="368.57" stroke="#444" stroke-width="0.7"/>
<line x1="373.2" y1="369.56" x2="375.2" y2="369.56" stroke="#444" stroke-width="0.7"/>
<line x1="373.2" y1="370.44" x2="376.2" y2="370.44" stroke="#444" stroke-width="0.7"/>
<line x1="373.2" y1="376.24" x2="375.2" y2="376.24" stroke="#444" stroke-width="0.7"/>
<line x1="373.2" y1="379.64" x2="375.2" y2="379.64" stroke="#444" stroke-width="0.7"/>
<line x1="373.2" y1="382.05" x2="375.2" y2="382.05" stroke="#444" stroke-width="0.7"/>
<line x1="373.2" y1="383.92" x2="375.2" y2="383.92" stroke="#444" stroke-width="0.7"/>
<line x1="373.2" y1="385.44" x2="375.2" y2="385.44" stroke="#444" stroke-width="0.7"/>
<line x1="373.2" y1="386.73" x2="375.2" y2="386.73" stroke="#444" stroke-width="0.7"/>
<line x1="373.2" y1="387.85" x2="375.2" y2="387.85" stroke="#444" stroke-width="0.7"/>
<line x1="373.2" y1="388.84" x2="375.2" y2="388.84" stroke="#444" stroke-width="0.7"/>
<line x1="373.2" y1="389.72" x2="376.2" y2="389.72" stroke="#444" stroke-width="0.7"/>
<line x1="373.2" y1="395.52" x2="375.2" y2="395.52" stroke="#444" stroke-width="0.7"/>
<line x1="373.2" y1="398.92" x2="375.2" y2="398.92" stroke="#444" stroke-width="0.7"/>
<line x1="373.2" y1="401.33" x2="375.2" y2="401.33" stroke="#444" stroke-width="0.7"/>
<line x1="373.2" y1="403.20" x2="375.2" y2="403.20" stroke="#444" stroke-width="0.7"/>
<line x1="373.2" y1="404.72" x2="375.2" y2="404.72" stroke="#444" stroke-width="0.7"/>
<line x1="373.2" y1="406.01" x2="375.2" y2="406.01" stroke="#444" stroke-width="0.7"/>
<line x1="373.2" y1="407.13" x2="375.2" y2="407.13" stroke="#444" stroke-width="0.7"/>
<line x1="373.2" y1="408.12" x2="375.2" y2="408.12" stroke="#444" stroke-width="0.7"/>
<path d="M382.40,313.20 C382.63,316.00 383.02,324.97 383.80,330.00 C384.58,335.03 386.17,339.68 387.10,343.40 C388.03,347.12 388.65,349.52 389.40,352.30 C390.15,355.08 391.23,358.80 391.60,360.10" fill="none" stroke="#1a1a1a" stroke-width="1.6" stroke-dasharray="2.6 1.8"/>
<path d="M391.60,360.10 C392.53,361.40 395.17,365.48 397.20,367.90 C399.23,370.32 401.40,372.00 403.80,374.60 C406.20,377.20 408.82,380.72 411.60,383.50 C414.38,386.28 417.15,388.70 420.50,391.30 C423.85,393.90 427.80,396.28 431.70,399.10 C435.60,401.92 441.87,406.68 443.90,408.20" fill="none" stroke="#1a1a1a" stroke-width="2.0" stroke-linecap="round"/>
<path d="M403,374 l2,1.5 l1,3 l2,0.5" fill="none" stroke="#1a1a1a" stroke-width="1.2"/>
<rect x="373.2" y="312.6" width="80.40000000000003" height="96.39999999999998" fill="none" stroke="#1e1e1e" stroke-width="1.3"/>
<path d="M386.7,286.8 L382.4,296.3 Q385.79999999999995,294.3 389.2,296.3 Z" fill="#e4321e"/>
<path d="M386.00,295.80 C386.83,297.20 388.50,297.77 388.50,300.00 C388.50,302.23 388.50,300.67 386.00,302.50 C383.50,304.33 382.17,303.67 381.00,305.50 C379.83,307.33 379.00,306.17 382.50,308.00 C386.00,309.83 389.67,309.17 391.50,311.00 C393.33,312.83 390.83,311.67 388.00,313.50 C385.17,315.33 384.67,314.67 383.00,316.50 C381.33,318.33 383.00,318.17 383.00,319.00" fill="none" stroke="#e4321e" stroke-width="1.25" stroke-linecap="round" stroke-linejoin="round"/>
<path d="M396.7,317.3 L392.8,328.2 Q396.0,326.2 399.2,328.2 Z" fill="#e4321e"/>
<path d="M396.50,327.50 C397.00,329.67 398.17,330.33 398.00,334.00 C397.83,337.67 398.17,335.67 396.00,338.50 C393.83,341.33 392.50,340.00 391.50,342.50 C390.50,345.00 390.00,343.50 393.00,346.00 C396.00,348.50 399.17,347.33 400.50,350.00 C401.83,352.67 399.83,351.17 397.00,354.00 C394.17,356.83 393.83,356.50 392.00,358.50 C390.17,360.50 391.67,359.50 391.50,360.00" fill="none" stroke="#e4321e" stroke-width="1.25" stroke-linecap="round" stroke-linejoin="round"/>
<text x="451.60" y="324.50" font-family="Liberation Serif, serif" font-size="11.5" font-weight="bold" fill="#1e1e1e" text-anchor="end" textLength="29.5" lengthAdjust="spacingAndGlyphs" >Venus</text>
<text x="370.40" y="317.30" font-family="Liberation Serif, serif" font-size="10.5" fill="#1e1e1e" text-anchor="end" textLength="20.5" lengthAdjust="spacingAndGlyphs" >0.001</text>
<text x="370.40" y="336.50" font-family="Liberation Serif, serif" font-size="10.5" fill="#1e1e1e" text-anchor="end" textLength="18" lengthAdjust="spacingAndGlyphs" >0.01</text>
<text x="370.40" y="355.90" font-family="Liberation Serif, serif" font-size="10.5" fill="#1e1e1e" text-anchor="end" textLength="13" lengthAdjust="spacingAndGlyphs" >0.1</text>
<text x="370.40" y="374.40" font-family="Liberation Serif, serif" font-size="10.5" fill="#1e1e1e" text-anchor="end" textLength="5.2" lengthAdjust="spacingAndGlyphs" >1</text>
<text x="370.40" y="394.10" font-family="Liberation Serif, serif" font-size="10.5" fill="#1e1e1e" text-anchor="end" textLength="10.4" lengthAdjust="spacingAndGlyphs" >10</text>
<text x="370.40" y="413.00" font-family="Liberation Serif, serif" font-size="10.5" fill="#1e1e1e" text-anchor="end" textLength="15" lengthAdjust="spacingAndGlyphs" >100</text>
<text x="384.80" y="419.80" font-family="Liberation Serif, serif" font-size="10.5" fill="#1e1e1e" text-anchor="middle" textLength="14.5" lengthAdjust="spacingAndGlyphs" >200</text>
<text x="407.20" y="419.80" font-family="Liberation Serif, serif" font-size="10.5" fill="#1e1e1e" text-anchor="middle" textLength="14.5" lengthAdjust="spacingAndGlyphs" >400</text>
<text x="429.10" y="419.80" font-family="Liberation Serif, serif" font-size="10.5" fill="#1e1e1e" text-anchor="middle" textLength="14.5" lengthAdjust="spacingAndGlyphs" >600</text>
<text x="451.50" y="419.80" font-family="Liberation Serif, serif" font-size="10.5" fill="#1e1e1e" text-anchor="middle" textLength="14.5" lengthAdjust="spacingAndGlyphs" >800</text>
<text x="413.00" y="431.20" font-family="Liberation Serif, serif" font-size="10.5" fill="#1e1e1e" text-anchor="middle" textLength="84" lengthAdjust="spacingAndGlyphs" >TEMPERATURE (K)</text>
<text transform="translate(342.7,360.3) rotate(-90)" y="3.8" font-family="Liberation Serif, serif" font-size="11" fill="#1e1e1e" text-anchor="middle" textLength="89" lengthAdjust="spacingAndGlyphs">PRESSURE (10<tspan font-size="7.5" dy="-3.8">5</tspan><tspan dy="3.8"> Pa)</tspan></text>
</svg></body></html>
